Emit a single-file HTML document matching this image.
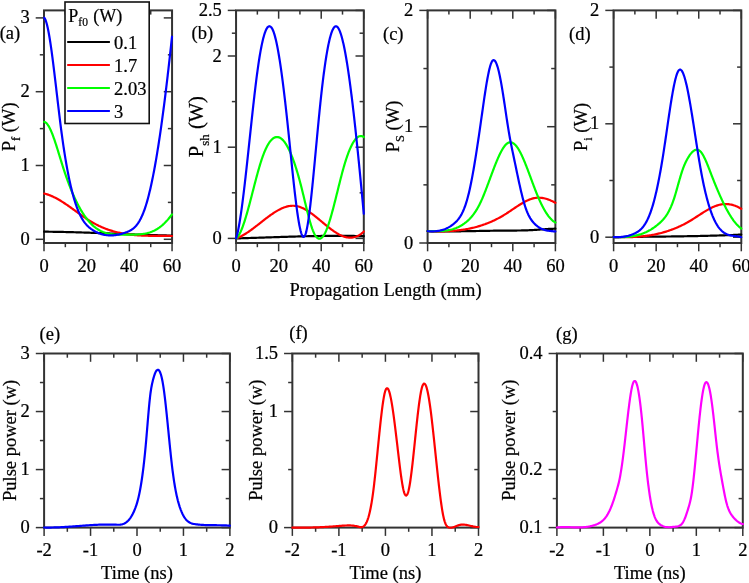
<!DOCTYPE html>
<html><head><meta charset="utf-8"><style>
html,body{margin:0;padding:0;background:#fff;}
svg{display:block;will-change:transform;}
text{font-family:"Liberation Serif",serif;fill:#000;stroke:#000;stroke-width:0.22px;}
</style></head><body>
<svg width="749" height="583" viewBox="0 0 749 583">
<rect width="749" height="583" fill="#fff"/>
<line x1="44.00" y1="243.00" x2="44.00" y2="251.30" stroke="#333" stroke-width="1.5"/>
<line x1="44.00" y1="10.40" x2="44.00" y2="18.70" stroke="#333" stroke-width="1.5"/>
<line x1="86.69" y1="243.00" x2="86.69" y2="251.30" stroke="#333" stroke-width="1.5"/>
<line x1="86.69" y1="10.40" x2="86.69" y2="18.70" stroke="#333" stroke-width="1.5"/>
<line x1="129.37" y1="243.00" x2="129.37" y2="251.30" stroke="#333" stroke-width="1.5"/>
<line x1="129.37" y1="10.40" x2="129.37" y2="18.70" stroke="#333" stroke-width="1.5"/>
<line x1="172.06" y1="243.00" x2="172.06" y2="251.30" stroke="#333" stroke-width="1.5"/>
<line x1="172.06" y1="10.40" x2="172.06" y2="18.70" stroke="#333" stroke-width="1.5"/>
<line x1="65.34" y1="243.00" x2="65.34" y2="247.20" stroke="#333" stroke-width="1.5"/>
<line x1="65.34" y1="10.40" x2="65.34" y2="14.60" stroke="#333" stroke-width="1.5"/>
<line x1="108.03" y1="243.00" x2="108.03" y2="247.20" stroke="#333" stroke-width="1.5"/>
<line x1="108.03" y1="10.40" x2="108.03" y2="14.60" stroke="#333" stroke-width="1.5"/>
<line x1="150.72" y1="243.00" x2="150.72" y2="247.20" stroke="#333" stroke-width="1.5"/>
<line x1="150.72" y1="10.40" x2="150.72" y2="14.60" stroke="#333" stroke-width="1.5"/>
<line x1="35.70" y1="239.30" x2="44.00" y2="239.30" stroke="#333" stroke-width="1.5"/>
<line x1="163.76" y1="239.30" x2="172.06" y2="239.30" stroke="#333" stroke-width="1.5"/>
<line x1="35.70" y1="165.50" x2="44.00" y2="165.50" stroke="#333" stroke-width="1.5"/>
<line x1="163.76" y1="165.50" x2="172.06" y2="165.50" stroke="#333" stroke-width="1.5"/>
<line x1="35.70" y1="91.70" x2="44.00" y2="91.70" stroke="#333" stroke-width="1.5"/>
<line x1="163.76" y1="91.70" x2="172.06" y2="91.70" stroke="#333" stroke-width="1.5"/>
<line x1="35.70" y1="17.90" x2="44.00" y2="17.90" stroke="#333" stroke-width="1.5"/>
<line x1="163.76" y1="17.90" x2="172.06" y2="17.90" stroke="#333" stroke-width="1.5"/>
<line x1="39.80" y1="202.40" x2="44.00" y2="202.40" stroke="#333" stroke-width="1.5"/>
<line x1="167.86" y1="202.40" x2="172.06" y2="202.40" stroke="#333" stroke-width="1.5"/>
<line x1="39.80" y1="128.60" x2="44.00" y2="128.60" stroke="#333" stroke-width="1.5"/>
<line x1="167.86" y1="128.60" x2="172.06" y2="128.60" stroke="#333" stroke-width="1.5"/>
<line x1="39.80" y1="54.80" x2="44.00" y2="54.80" stroke="#333" stroke-width="1.5"/>
<line x1="167.86" y1="54.80" x2="172.06" y2="54.80" stroke="#333" stroke-width="1.5"/>
<rect x="44.00" y="10.40" width="128.06" height="232.60" fill="none" stroke="#333" stroke-width="2.0"/>
<text x="44.00" y="271.60" font-size="18.5" text-anchor="middle" >0</text>
<text x="86.69" y="271.60" font-size="18.5" text-anchor="middle" >20</text>
<text x="129.37" y="271.60" font-size="18.5" text-anchor="middle" >40</text>
<text x="172.06" y="271.60" font-size="18.5" text-anchor="middle" >60</text>
<text x="29.70" y="244.80" font-size="18.5" text-anchor="end" >0</text>
<text x="29.70" y="171.00" font-size="18.5" text-anchor="end" >1</text>
<text x="29.70" y="97.20" font-size="18.5" text-anchor="end" >2</text>
<text x="29.70" y="23.40" font-size="18.5" text-anchor="end" >3</text>
<line x1="236.06" y1="243.00" x2="236.06" y2="251.30" stroke="#333" stroke-width="1.5"/>
<line x1="236.06" y1="10.40" x2="236.06" y2="18.70" stroke="#333" stroke-width="1.5"/>
<line x1="278.64" y1="243.00" x2="278.64" y2="251.30" stroke="#333" stroke-width="1.5"/>
<line x1="278.64" y1="10.40" x2="278.64" y2="18.70" stroke="#333" stroke-width="1.5"/>
<line x1="321.22" y1="243.00" x2="321.22" y2="251.30" stroke="#333" stroke-width="1.5"/>
<line x1="321.22" y1="10.40" x2="321.22" y2="18.70" stroke="#333" stroke-width="1.5"/>
<line x1="363.80" y1="243.00" x2="363.80" y2="251.30" stroke="#333" stroke-width="1.5"/>
<line x1="363.80" y1="10.40" x2="363.80" y2="18.70" stroke="#333" stroke-width="1.5"/>
<line x1="257.35" y1="243.00" x2="257.35" y2="247.20" stroke="#333" stroke-width="1.5"/>
<line x1="257.35" y1="10.40" x2="257.35" y2="14.60" stroke="#333" stroke-width="1.5"/>
<line x1="299.93" y1="243.00" x2="299.93" y2="247.20" stroke="#333" stroke-width="1.5"/>
<line x1="299.93" y1="10.40" x2="299.93" y2="14.60" stroke="#333" stroke-width="1.5"/>
<line x1="342.51" y1="243.00" x2="342.51" y2="247.20" stroke="#333" stroke-width="1.5"/>
<line x1="342.51" y1="10.40" x2="342.51" y2="14.60" stroke="#333" stroke-width="1.5"/>
<line x1="227.76" y1="238.40" x2="236.06" y2="238.40" stroke="#333" stroke-width="1.5"/>
<line x1="355.50" y1="238.40" x2="363.80" y2="238.40" stroke="#333" stroke-width="1.5"/>
<line x1="227.76" y1="147.20" x2="236.06" y2="147.20" stroke="#333" stroke-width="1.5"/>
<line x1="355.50" y1="147.20" x2="363.80" y2="147.20" stroke="#333" stroke-width="1.5"/>
<line x1="227.76" y1="56.00" x2="236.06" y2="56.00" stroke="#333" stroke-width="1.5"/>
<line x1="355.50" y1="56.00" x2="363.80" y2="56.00" stroke="#333" stroke-width="1.5"/>
<line x1="227.76" y1="10.40" x2="236.06" y2="10.40" stroke="#333" stroke-width="1.5"/>
<line x1="355.50" y1="10.40" x2="363.80" y2="10.40" stroke="#333" stroke-width="1.5"/>
<line x1="231.86" y1="192.80" x2="236.06" y2="192.80" stroke="#333" stroke-width="1.5"/>
<line x1="359.60" y1="192.80" x2="363.80" y2="192.80" stroke="#333" stroke-width="1.5"/>
<line x1="231.86" y1="101.60" x2="236.06" y2="101.60" stroke="#333" stroke-width="1.5"/>
<line x1="359.60" y1="101.60" x2="363.80" y2="101.60" stroke="#333" stroke-width="1.5"/>
<line x1="231.86" y1="33.20" x2="236.06" y2="33.20" stroke="#333" stroke-width="1.5"/>
<line x1="359.60" y1="33.20" x2="363.80" y2="33.20" stroke="#333" stroke-width="1.5"/>
<rect x="236.06" y="10.40" width="127.74" height="232.60" fill="none" stroke="#333" stroke-width="2.0"/>
<text x="236.06" y="271.60" font-size="18.5" text-anchor="middle" >0</text>
<text x="278.64" y="271.60" font-size="18.5" text-anchor="middle" >20</text>
<text x="321.22" y="271.60" font-size="18.5" text-anchor="middle" >40</text>
<text x="363.80" y="271.60" font-size="18.5" text-anchor="middle" >60</text>
<text x="221.76" y="243.90" font-size="18.5" text-anchor="end" >0</text>
<text x="221.76" y="152.70" font-size="18.5" text-anchor="end" >1</text>
<text x="221.76" y="61.50" font-size="18.5" text-anchor="end" >2</text>
<text x="221.76" y="15.90" font-size="18.5" text-anchor="end" >2.5</text>
<line x1="427.60" y1="243.00" x2="427.60" y2="251.30" stroke="#333" stroke-width="1.5"/>
<line x1="427.60" y1="10.40" x2="427.60" y2="18.70" stroke="#333" stroke-width="1.5"/>
<line x1="470.20" y1="243.00" x2="470.20" y2="251.30" stroke="#333" stroke-width="1.5"/>
<line x1="470.20" y1="10.40" x2="470.20" y2="18.70" stroke="#333" stroke-width="1.5"/>
<line x1="512.80" y1="243.00" x2="512.80" y2="251.30" stroke="#333" stroke-width="1.5"/>
<line x1="512.80" y1="10.40" x2="512.80" y2="18.70" stroke="#333" stroke-width="1.5"/>
<line x1="555.40" y1="243.00" x2="555.40" y2="251.30" stroke="#333" stroke-width="1.5"/>
<line x1="555.40" y1="10.40" x2="555.40" y2="18.70" stroke="#333" stroke-width="1.5"/>
<line x1="448.90" y1="243.00" x2="448.90" y2="247.20" stroke="#333" stroke-width="1.5"/>
<line x1="448.90" y1="10.40" x2="448.90" y2="14.60" stroke="#333" stroke-width="1.5"/>
<line x1="491.50" y1="243.00" x2="491.50" y2="247.20" stroke="#333" stroke-width="1.5"/>
<line x1="491.50" y1="10.40" x2="491.50" y2="14.60" stroke="#333" stroke-width="1.5"/>
<line x1="534.10" y1="243.00" x2="534.10" y2="247.20" stroke="#333" stroke-width="1.5"/>
<line x1="534.10" y1="10.40" x2="534.10" y2="14.60" stroke="#333" stroke-width="1.5"/>
<line x1="419.30" y1="243.00" x2="427.60" y2="243.00" stroke="#333" stroke-width="1.5"/>
<line x1="547.10" y1="243.00" x2="555.40" y2="243.00" stroke="#333" stroke-width="1.5"/>
<line x1="419.30" y1="126.70" x2="427.60" y2="126.70" stroke="#333" stroke-width="1.5"/>
<line x1="547.10" y1="126.70" x2="555.40" y2="126.70" stroke="#333" stroke-width="1.5"/>
<line x1="419.30" y1="10.40" x2="427.60" y2="10.40" stroke="#333" stroke-width="1.5"/>
<line x1="547.10" y1="10.40" x2="555.40" y2="10.40" stroke="#333" stroke-width="1.5"/>
<line x1="423.40" y1="184.85" x2="427.60" y2="184.85" stroke="#333" stroke-width="1.5"/>
<line x1="551.20" y1="184.85" x2="555.40" y2="184.85" stroke="#333" stroke-width="1.5"/>
<line x1="423.40" y1="68.55" x2="427.60" y2="68.55" stroke="#333" stroke-width="1.5"/>
<line x1="551.20" y1="68.55" x2="555.40" y2="68.55" stroke="#333" stroke-width="1.5"/>
<rect x="427.60" y="10.40" width="127.80" height="232.60" fill="none" stroke="#333" stroke-width="2.0"/>
<text x="427.60" y="271.60" font-size="18.5" text-anchor="middle" >0</text>
<text x="470.20" y="271.60" font-size="18.5" text-anchor="middle" >20</text>
<text x="512.80" y="271.60" font-size="18.5" text-anchor="middle" >40</text>
<text x="555.40" y="271.60" font-size="18.5" text-anchor="middle" >60</text>
<text x="413.30" y="248.50" font-size="18.5" text-anchor="end" >0</text>
<text x="413.30" y="132.20" font-size="18.5" text-anchor="end" >1</text>
<text x="413.30" y="15.90" font-size="18.5" text-anchor="end" >2</text>
<line x1="613.60" y1="243.00" x2="613.60" y2="251.30" stroke="#333" stroke-width="1.5"/>
<line x1="613.60" y1="10.40" x2="613.60" y2="18.70" stroke="#333" stroke-width="1.5"/>
<line x1="656.17" y1="243.00" x2="656.17" y2="251.30" stroke="#333" stroke-width="1.5"/>
<line x1="656.17" y1="10.40" x2="656.17" y2="18.70" stroke="#333" stroke-width="1.5"/>
<line x1="698.73" y1="243.00" x2="698.73" y2="251.30" stroke="#333" stroke-width="1.5"/>
<line x1="698.73" y1="10.40" x2="698.73" y2="18.70" stroke="#333" stroke-width="1.5"/>
<line x1="741.30" y1="243.00" x2="741.30" y2="251.30" stroke="#333" stroke-width="1.5"/>
<line x1="741.30" y1="10.40" x2="741.30" y2="18.70" stroke="#333" stroke-width="1.5"/>
<line x1="634.88" y1="243.00" x2="634.88" y2="247.20" stroke="#333" stroke-width="1.5"/>
<line x1="634.88" y1="10.40" x2="634.88" y2="14.60" stroke="#333" stroke-width="1.5"/>
<line x1="677.45" y1="243.00" x2="677.45" y2="247.20" stroke="#333" stroke-width="1.5"/>
<line x1="677.45" y1="10.40" x2="677.45" y2="14.60" stroke="#333" stroke-width="1.5"/>
<line x1="720.02" y1="243.00" x2="720.02" y2="247.20" stroke="#333" stroke-width="1.5"/>
<line x1="720.02" y1="10.40" x2="720.02" y2="14.60" stroke="#333" stroke-width="1.5"/>
<line x1="605.30" y1="237.20" x2="613.60" y2="237.20" stroke="#333" stroke-width="1.5"/>
<line x1="733.00" y1="237.20" x2="741.30" y2="237.20" stroke="#333" stroke-width="1.5"/>
<line x1="605.30" y1="123.80" x2="613.60" y2="123.80" stroke="#333" stroke-width="1.5"/>
<line x1="733.00" y1="123.80" x2="741.30" y2="123.80" stroke="#333" stroke-width="1.5"/>
<line x1="605.30" y1="10.40" x2="613.60" y2="10.40" stroke="#333" stroke-width="1.5"/>
<line x1="733.00" y1="10.40" x2="741.30" y2="10.40" stroke="#333" stroke-width="1.5"/>
<line x1="609.40" y1="180.50" x2="613.60" y2="180.50" stroke="#333" stroke-width="1.5"/>
<line x1="737.10" y1="180.50" x2="741.30" y2="180.50" stroke="#333" stroke-width="1.5"/>
<line x1="609.40" y1="67.10" x2="613.60" y2="67.10" stroke="#333" stroke-width="1.5"/>
<line x1="737.10" y1="67.10" x2="741.30" y2="67.10" stroke="#333" stroke-width="1.5"/>
<rect x="613.60" y="10.40" width="127.70" height="232.60" fill="none" stroke="#333" stroke-width="2.0"/>
<text x="613.60" y="271.60" font-size="18.5" text-anchor="middle" >0</text>
<text x="656.17" y="271.60" font-size="18.5" text-anchor="middle" >20</text>
<text x="698.73" y="271.60" font-size="18.5" text-anchor="middle" >40</text>
<text x="741.30" y="271.60" font-size="18.5" text-anchor="middle" >60</text>
<text x="599.30" y="242.70" font-size="18.5" text-anchor="end" >0</text>
<text x="599.30" y="129.30" font-size="18.5" text-anchor="end" >1</text>
<text x="599.30" y="15.90" font-size="18.5" text-anchor="end" >2</text>
<path d="M44.20,231.69 L45.20,231.69 L46.20,231.70 L47.20,231.71 L48.20,231.72 L49.20,231.73 L50.20,231.74 L51.20,231.75 L52.20,231.77 L53.20,231.78 L54.20,231.80 L55.20,231.81 L56.20,231.83 L57.20,231.85 L58.20,231.86 L59.20,231.88 L60.20,231.90 L61.20,231.92 L62.20,231.94 L63.20,231.96 L64.20,231.99 L65.20,232.01 L66.20,232.03 L67.20,232.06 L68.20,232.08 L69.20,232.11 L70.20,232.13 L71.20,232.16 L72.20,232.18 L73.19,232.21 L74.19,232.24 L75.19,232.27 L76.19,232.30 L77.19,232.33 L78.19,232.36 L79.19,232.39 L80.19,232.42 L81.19,232.45 L82.19,232.48 L83.19,232.52 L84.19,232.55 L85.19,232.58 L86.19,232.62 L87.19,232.65 L88.19,232.68 L89.19,232.72 L90.19,232.75 L91.19,232.79 L92.19,232.82 L93.18,232.86 L94.18,232.90 L95.18,232.93 L96.18,232.97 L97.18,233.01 L98.18,233.05 L99.18,233.08 L100.18,233.12 L101.18,233.16 L102.18,233.20 L103.18,233.24 L104.18,233.27 L105.18,233.31 L106.18,233.35 L107.17,233.39 L108.17,233.43 L109.17,233.47 L110.17,233.51 L111.17,233.55 L112.17,233.59 L113.17,233.63 L114.17,233.67 L115.17,233.71 L116.17,233.74 L117.17,233.78 L118.17,233.82 L119.17,233.86 L120.16,233.90 L121.16,233.94 L122.16,233.98 L123.16,234.02 L124.16,234.06 L125.16,234.10 L126.16,234.14 L127.16,234.18 L128.16,234.22 L129.16,234.25 L130.16,234.29 L131.16,234.33 L132.16,234.37 L133.15,234.41 L134.15,234.44 L135.15,234.48 L136.15,234.52 L137.15,234.56 L138.15,234.59 L139.15,234.63 L140.15,234.66 L141.15,234.70 L142.15,234.74 L143.15,234.77 L144.15,234.81 L145.15,234.84 L146.15,234.87 L147.15,234.91 L148.14,234.94 L149.14,234.97 L150.14,235.01 L151.14,235.04 L152.14,235.07 L153.14,235.10 L154.14,235.13 L155.14,235.16 L156.14,235.19 L157.14,235.22 L158.14,235.25 L159.14,235.28 L160.14,235.30 L161.14,235.33 L162.14,235.36 L163.14,235.38 L164.14,235.41 L165.14,235.43 L166.14,235.46 L167.14,235.48 L168.14,235.50 L169.14,235.53 L170.14,235.55 L171.14,235.57 L172.00,235.59" fill="none" stroke="#000000" stroke-width="2.2" stroke-linejoin="round" stroke-linecap="round"/>
<path d="M44.20,193.57 L45.18,193.80 L46.14,194.06 L47.11,194.35 L48.06,194.66 L49.01,195.00 L49.95,195.35 L50.88,195.73 L51.80,196.12 L52.72,196.53 L53.63,196.95 L54.53,197.39 L55.42,197.85 L56.31,198.32 L57.19,198.79 L58.07,199.28 L58.94,199.78 L59.80,200.29 L60.66,200.81 L61.52,201.34 L62.37,201.87 L63.21,202.41 L64.05,202.96 L64.89,203.51 L65.72,204.07 L66.55,204.63 L67.38,205.19 L68.20,205.76 L69.02,206.34 L69.84,206.91 L70.66,207.49 L71.47,208.07 L72.29,208.65 L73.10,209.24 L73.91,209.82 L74.72,210.41 L75.54,210.99 L76.35,211.58 L77.16,212.16 L77.97,212.75 L78.78,213.33 L79.59,213.91 L80.41,214.49 L81.22,215.07 L82.04,215.64 L82.86,216.22 L83.68,216.79 L84.50,217.35 L85.32,217.91 L86.15,218.47 L86.98,219.02 L87.82,219.57 L88.66,220.11 L89.50,220.64 L90.35,221.16 L91.20,221.68 L92.06,222.19 L92.92,222.69 L93.79,223.18 L94.66,223.66 L95.54,224.14 L96.42,224.60 L97.31,225.05 L98.21,225.49 L99.10,225.93 L100.01,226.35 L100.92,226.76 L101.83,227.16 L102.75,227.56 L103.67,227.94 L104.59,228.31 L105.52,228.67 L106.46,229.02 L107.39,229.36 L108.34,229.70 L109.28,230.02 L110.23,230.33 L111.18,230.63 L112.14,230.92 L113.10,231.20 L114.06,231.47 L115.02,231.73 L115.99,231.98 L116.96,232.22 L117.93,232.45 L118.90,232.67 L119.88,232.88 L120.86,233.08 L121.84,233.28 L122.82,233.46 L123.80,233.64 L124.79,233.81 L125.78,233.97 L126.76,234.12 L127.75,234.26 L128.74,234.40 L129.73,234.52 L130.73,234.64 L131.72,234.76 L132.71,234.86 L133.71,234.96 L134.70,235.05 L135.70,235.14 L136.70,235.22 L137.69,235.29 L138.69,235.36 L139.69,235.42 L140.69,235.48 L141.69,235.53 L142.68,235.58 L143.68,235.63 L144.68,235.66 L145.68,235.70 L146.68,235.73 L147.68,235.76 L148.68,235.78 L149.68,235.80 L150.68,235.82 L151.68,235.84 L152.68,235.85 L153.68,235.86 L154.68,235.87 L155.68,235.88 L156.68,235.89 L157.68,235.89 L158.68,235.90 L159.68,235.90 L160.68,235.91 L161.68,235.91 L162.68,235.91 L163.68,235.92 L164.68,235.92 L165.68,235.93 L166.68,235.93 L167.68,235.94 L168.68,235.95 L169.68,235.96 L170.68,235.98 L171.68,235.99 L172.00,236.00" fill="none" stroke="#ff0000" stroke-width="2.2" stroke-linejoin="round" stroke-linecap="round"/>
<path d="M44.20,121.88 L45.19,122.23 L46.07,122.84 L46.83,123.59 L47.50,124.41 L48.10,125.27 L48.65,126.15 L49.16,127.04 L49.64,127.95 L50.10,128.87 L50.53,129.79 L50.95,130.72 L51.35,131.65 L51.74,132.59 L52.12,133.53 L52.49,134.47 L52.85,135.42 L53.20,136.36 L53.55,137.31 L53.89,138.26 L54.22,139.21 L54.55,140.16 L54.87,141.12 L55.19,142.07 L55.51,143.03 L55.82,143.98 L56.13,144.94 L56.44,145.89 L56.74,146.85 L57.04,147.81 L57.35,148.76 L57.64,149.72 L57.94,150.68 L58.24,151.63 L58.53,152.59 L58.83,153.55 L59.12,154.50 L59.41,155.46 L59.70,156.42 L60.00,157.37 L60.29,158.33 L60.58,159.29 L60.88,160.24 L61.17,161.19 L61.46,162.15 L61.76,163.10 L62.06,164.05 L62.35,165.01 L62.65,165.96 L62.96,166.91 L63.26,167.86 L63.57,168.80 L63.87,169.75 L64.18,170.70 L64.50,171.64 L64.81,172.59 L65.13,173.53 L65.45,174.47 L65.78,175.42 L66.10,176.36 L66.43,177.30 L66.76,178.23 L67.10,179.17 L67.44,180.11 L67.78,181.04 L68.12,181.98 L68.47,182.91 L68.82,183.84 L69.17,184.77 L69.53,185.70 L69.89,186.63 L70.26,187.55 L70.62,188.48 L71.00,189.40 L71.37,190.32 L71.75,191.24 L72.13,192.16 L72.52,193.08 L72.91,193.99 L73.31,194.90 L73.71,195.81 L74.12,196.72 L74.53,197.62 L74.95,198.53 L75.37,199.43 L75.79,200.32 L76.22,201.22 L76.66,202.11 L77.10,203.00 L77.55,203.89 L78.01,204.77 L78.47,205.65 L78.94,206.52 L79.41,207.39 L79.90,208.26 L80.38,209.13 L80.88,209.98 L81.39,210.84 L81.90,211.69 L82.42,212.53 L82.95,213.37 L83.49,214.20 L84.04,215.02 L84.60,215.84 L85.17,216.65 L85.75,217.46 L86.34,218.25 L86.94,219.04 L87.56,219.81 L88.19,220.58 L88.83,221.33 L89.48,222.07 L90.15,222.80 L90.83,223.52 L91.53,224.22 L92.24,224.91 L92.97,225.57 L93.72,226.23 L94.48,226.86 L95.25,227.47 L96.04,228.07 L96.85,228.64 L97.68,229.19 L98.52,229.71 L99.38,230.21 L100.25,230.68 L101.13,231.13 L102.03,231.55 L102.95,231.94 L103.87,232.30 L104.81,232.63 L105.76,232.94 L106.71,233.21 L107.68,233.46 L108.65,233.68 L109.63,233.88 L110.61,234.05 L111.60,234.19 L112.59,234.32 L113.58,234.42 L114.58,234.50 L115.58,234.57 L116.57,234.62 L117.57,234.66 L118.57,234.68 L119.57,234.69 L120.57,234.70 L121.57,234.70 L122.57,234.69 L123.57,234.68 L124.57,234.67 L125.57,234.66 L126.57,234.66 L127.57,234.65 L128.57,234.65 L129.57,234.65 L130.57,234.65 L131.57,234.65 L132.57,234.64 L133.57,234.63 L134.57,234.61 L135.57,234.59 L136.57,234.55 L137.57,234.50 L138.57,234.44 L139.57,234.36 L140.56,234.27 L141.56,234.16 L142.55,234.03 L143.54,233.88 L144.53,233.72 L145.51,233.52 L146.49,233.31 L147.46,233.07 L148.43,232.80 L149.39,232.51 L150.35,232.19 L151.29,231.85 L152.23,231.48 L153.15,231.08 L154.06,230.66 L154.96,230.21 L155.85,229.73 L156.73,229.23 L157.59,228.71 L158.43,228.16 L159.27,227.59 L160.08,227.00 L160.89,226.38 L161.67,225.75 L162.45,225.10 L163.20,224.43 L163.95,223.75 L164.68,223.05 L165.39,222.34 L166.09,221.61 L166.78,220.87 L167.45,220.11 L168.11,219.35 L168.76,218.57 L169.39,217.79 L170.01,216.99 L170.62,216.19 L171.22,215.38 L171.81,214.56 L172.00,214.29" fill="none" stroke="#00ff00" stroke-width="2.2" stroke-linejoin="round" stroke-linecap="round"/>
<path d="M44.20,17.77 L44.93,18.77 L45.41,19.77 L45.81,20.77 L46.15,21.78 L46.45,22.77 L46.73,23.77 L47.00,24.77 L47.24,25.77 L47.47,26.77 L47.70,27.76 L47.91,28.76 L48.12,29.76 L48.31,30.75 L48.51,31.75 L48.69,32.74 L48.88,33.74 L49.05,34.74 L49.23,35.73 L49.40,36.73 L49.56,37.72 L49.73,38.72 L49.89,39.72 L50.04,40.71 L50.20,41.71 L50.35,42.70 L50.50,43.70 L50.65,44.69 L50.80,45.69 L50.94,46.68 L51.09,47.68 L51.23,48.68 L51.37,49.67 L51.51,50.67 L51.65,51.66 L51.78,52.66 L51.92,53.65 L52.05,54.65 L52.18,55.64 L52.31,56.64 L52.45,57.63 L52.58,58.63 L52.70,59.62 L52.83,60.62 L52.96,61.61 L53.09,62.61 L53.21,63.60 L53.34,64.60 L53.46,65.59 L53.58,66.59 L53.71,67.58 L53.83,68.58 L53.95,69.57 L54.07,70.56 L54.19,71.56 L54.32,72.55 L54.44,73.55 L54.56,74.54 L54.68,75.54 L54.80,76.54 L54.92,77.55 L55.04,78.56 L55.16,79.57 L55.28,80.58 L55.40,81.59 L55.52,82.61 L55.64,83.63 L55.76,84.65 L55.88,85.67 L56.00,86.69 L56.12,87.71 L56.24,88.74 L56.36,89.76 L56.48,90.79 L56.60,91.82 L56.72,92.84 L56.84,93.87 L56.96,94.90 L57.08,95.92 L57.20,96.95 L57.32,97.98 L57.44,99.00 L57.56,100.03 L57.68,101.05 L57.80,102.07 L57.92,103.09 L58.04,104.11 L58.16,105.13 L58.28,106.14 L58.40,107.16 L58.52,108.17 L58.64,109.18 L58.76,110.19 L58.88,111.19 L59.00,112.19 L59.12,113.19 L59.24,114.18 L59.36,115.18 L59.48,116.17 L59.60,117.16 L59.72,118.15 L59.84,119.14 L59.96,120.13 L60.08,121.12 L60.21,122.11 L60.33,123.10 L60.46,124.09 L60.58,125.08 L60.71,126.07 L60.83,127.06 L60.96,128.05 L61.09,129.03 L61.22,130.02 L61.35,131.01 L61.48,132.00 L61.61,132.99 L61.74,133.97 L61.88,134.96 L62.01,135.95 L62.15,136.94 L62.28,137.92 L62.42,138.91 L62.56,139.90 L62.70,140.88 L62.84,141.87 L62.98,142.85 L63.12,143.84 L63.27,144.83 L63.41,145.81 L63.56,146.80 L63.71,147.78 L63.85,148.77 L64.00,149.75 L64.15,150.74 L64.31,151.72 L64.46,152.70 L64.61,153.69 L64.77,154.67 L64.93,155.65 L65.09,156.64 L65.25,157.62 L65.41,158.60 L65.57,159.58 L65.74,160.56 L65.90,161.54 L66.07,162.53 L66.24,163.51 L66.41,164.49 L66.59,165.47 L66.76,166.45 L66.94,167.42 L67.12,168.40 L67.30,169.38 L67.48,170.36 L67.67,171.34 L67.85,172.31 L68.04,173.29 L68.23,174.26 L68.43,175.24 L68.62,176.21 L68.82,177.19 L69.02,178.16 L69.22,179.13 L69.43,180.11 L69.64,181.08 L69.85,182.05 L70.06,183.02 L70.28,183.99 L70.50,184.96 L70.72,185.92 L70.95,186.89 L71.17,187.86 L71.41,188.82 L71.64,189.78 L71.88,190.75 L72.13,191.71 L72.38,192.67 L72.63,193.63 L72.89,194.58 L73.15,195.54 L73.41,196.49 L73.68,197.45 L73.96,198.40 L74.24,199.35 L74.53,200.30 L74.82,201.24 L75.12,202.19 L75.42,203.13 L75.73,204.07 L76.05,205.00 L76.38,205.93 L76.71,206.86 L77.05,207.79 L77.40,208.71 L77.76,209.63 L78.13,210.55 L78.51,211.46 L78.90,212.37 L79.30,213.27 L79.71,214.16 L80.14,215.05 L80.58,215.93 L81.03,216.80 L81.50,217.67 L81.98,218.52 L82.48,219.37 L83.00,220.20 L83.54,221.02 L84.10,221.83 L84.68,222.62 L85.28,223.40 L85.91,224.15 L86.55,224.89 L87.23,225.61 L87.92,226.30 L88.65,226.97 L89.39,227.61 L90.16,228.23 L90.95,228.82 L91.76,229.39 L92.58,229.94 L93.42,230.47 L94.28,230.98 L95.14,231.46 L96.02,231.92 L96.92,232.35 L97.82,232.76 L98.74,233.15 L99.67,233.50 L100.61,233.83 L101.55,234.12 L102.51,234.39 L103.48,234.63 L104.46,234.84 L105.44,235.01 L106.42,235.15 L107.42,235.27 L108.41,235.35 L109.41,235.40 L110.41,235.42 L111.41,235.41 L112.41,235.38 L113.41,235.31 L114.40,235.22 L115.40,235.10 L116.39,234.95 L117.38,234.78 L118.36,234.59 L119.34,234.38 L120.31,234.14 L121.28,233.89 L122.25,233.61 L123.21,233.32 L124.16,233.01 L125.11,232.68 L126.05,232.34 L126.99,231.99 L127.92,231.61 L128.84,231.20 L129.75,230.76 L130.64,230.28 L131.51,229.76 L132.35,229.19 L133.17,228.57 L133.95,227.92 L134.70,227.22 L135.41,226.49 L136.10,225.73 L136.75,224.94 L137.37,224.13 L137.97,223.29 L138.53,222.44 L139.08,221.58 L139.60,220.70 L140.09,219.81 L140.57,218.91 L141.03,218.00 L141.47,217.08 L141.90,216.15 L142.31,215.22 L142.71,214.29 L143.10,213.35 L143.47,212.41 L143.83,211.46 L144.19,210.51 L144.53,209.55 L144.86,208.60 L145.19,207.64 L145.50,206.68 L145.81,205.71 L146.11,204.75 L146.41,203.78 L146.70,202.81 L146.98,201.84 L147.26,200.87 L147.53,199.90 L147.79,198.92 L148.06,197.95 L148.31,196.98 L148.57,196.00 L148.82,195.02 L149.06,194.05 L149.30,193.07 L149.54,192.09 L149.78,191.11 L150.01,190.13 L150.24,189.15 L150.46,188.17 L150.68,187.19 L150.90,186.21 L151.12,185.22 L151.34,184.24 L151.55,183.26 L151.76,182.27 L151.97,181.29 L152.17,180.31 L152.37,179.32 L152.58,178.34 L152.77,177.35 L152.97,176.37 L153.17,175.38 L153.36,174.40 L153.55,173.41 L153.74,172.42 L153.93,171.44 L154.12,170.45 L154.30,169.46 L154.48,168.48 L154.67,167.49 L154.85,166.50 L155.02,165.51 L155.20,164.52 L155.38,163.54 L155.55,162.55 L155.73,161.56 L155.90,160.57 L156.07,159.58 L156.24,158.59 L156.41,157.60 L156.57,156.61 L156.74,155.62 L156.90,154.63 L157.07,153.64 L157.23,152.65 L157.39,151.66 L157.55,150.67 L157.71,149.68 L157.87,148.69 L158.03,147.70 L158.19,146.71 L158.34,145.72 L158.50,144.73 L158.65,143.74 L158.80,142.75 L158.95,141.76 L159.11,140.76 L159.26,139.77 L159.41,138.78 L159.55,137.79 L159.70,136.80 L159.85,135.81 L160.00,134.81 L160.14,133.82 L160.29,132.83 L160.43,131.84 L160.57,130.85 L160.72,129.85 L160.86,128.86 L161.00,127.87 L161.14,126.88 L161.28,125.88 L161.42,124.89 L161.56,123.90 L161.69,122.91 L161.83,121.91 L161.97,120.92 L162.10,119.93 L162.24,118.93 L162.37,117.94 L162.51,116.95 L162.64,115.95 L162.78,114.96 L162.91,113.97 L163.04,112.97 L163.17,111.98 L163.30,110.99 L163.43,109.99 L163.56,109.00 L163.69,108.01 L163.82,107.01 L163.95,106.02 L164.08,105.03 L164.20,104.03 L164.33,103.04 L164.46,102.04 L164.58,101.05 L164.71,100.06 L164.83,99.06 L164.96,98.07 L165.08,97.07 L165.21,96.08 L165.33,95.09 L165.45,94.09 L165.57,93.10 L165.70,92.10 L165.82,91.11 L165.94,90.12 L166.06,89.12 L166.18,88.13 L166.30,87.13 L166.42,86.14 L166.54,85.14 L166.66,84.14 L166.78,83.13 L166.90,82.12 L167.02,81.11 L167.14,80.10 L167.26,79.08 L167.38,78.06 L167.50,77.04 L167.62,76.01 L167.74,74.99 L167.86,73.96 L167.98,72.92 L168.10,71.88 L168.22,70.84 L168.34,69.80 L168.46,68.76 L168.58,67.71 L168.70,66.66 L168.82,65.60 L168.94,64.55 L169.06,63.49 L169.18,62.42 L169.30,61.36 L169.42,60.29 L169.54,59.22 L169.66,58.15 L169.78,57.07 L169.90,55.99 L170.02,54.91 L170.14,53.83 L170.26,52.74 L170.38,51.65 L170.50,50.56 L170.62,49.47 L170.74,48.37 L170.86,47.27 L170.98,46.17 L171.10,45.07 L171.22,43.96 L171.34,42.85 L171.46,41.74 L171.58,40.63 L171.70,39.51 L171.82,38.39 L171.94,37.27 L172.00,36.72" fill="none" stroke="#0000ff" stroke-width="2.2" stroke-linejoin="round" stroke-linecap="round"/>
<path d="M236.10,238.40 L237.10,238.37 L238.10,238.35 L239.10,238.32 L240.10,238.29 L241.10,238.26 L242.10,238.23 L243.10,238.20 L244.10,238.17 L245.10,238.14 L246.10,238.11 L247.10,238.08 L248.09,238.05 L249.09,238.02 L250.09,237.99 L251.09,237.96 L252.09,237.93 L253.09,237.89 L254.09,237.86 L255.09,237.83 L256.09,237.80 L257.09,237.76 L258.09,237.73 L259.09,237.70 L260.09,237.66 L261.09,237.63 L262.09,237.60 L263.09,237.56 L264.09,237.53 L265.09,237.50 L266.09,237.46 L267.08,237.43 L268.08,237.40 L269.08,237.36 L270.08,237.33 L271.08,237.30 L272.08,237.26 L273.08,237.23 L274.08,237.20 L275.08,237.16 L276.08,237.13 L277.08,237.10 L278.08,237.06 L279.08,237.03 L280.08,237.00 L281.08,236.97 L282.08,236.93 L283.08,236.90 L284.08,236.87 L285.08,236.84 L286.07,236.81 L287.07,236.78 L288.07,236.75 L289.07,236.71 L290.07,236.68 L291.07,236.65 L292.07,236.62 L293.07,236.60 L294.07,236.57 L295.07,236.54 L296.07,236.51 L297.07,236.48 L298.07,236.45 L299.07,236.43 L300.07,236.40 L301.07,236.37 L302.07,236.35 L303.07,236.32 L304.07,236.30 L305.07,236.27 L306.07,236.25 L307.07,236.23 L308.07,236.20 L309.07,236.18 L310.07,236.16 L311.07,236.14 L312.07,236.12 L313.07,236.10 L314.06,236.08 L315.06,236.06 L316.06,236.04 L317.06,236.03 L318.06,236.01 L319.06,235.99 L320.06,235.98 L321.06,235.96 L322.06,235.95 L323.06,235.94 L324.06,235.92 L325.06,235.91 L326.06,235.90 L327.06,235.89 L328.06,235.88 L329.06,235.87 L330.06,235.87 L331.06,235.86 L332.06,235.86 L333.06,235.85 L334.06,235.85 L335.06,235.84 L336.06,235.84 L337.06,235.84 L338.06,235.84 L339.06,235.84 L340.06,235.84 L341.06,235.84 L342.06,235.85 L343.06,235.85 L344.06,235.86 L345.06,235.86 L346.06,235.87 L347.06,235.88 L348.06,235.89 L349.06,235.90 L350.06,235.91 L351.06,235.93 L352.06,235.94 L353.06,235.96 L354.06,235.97 L355.06,235.99 L356.06,236.01 L357.06,236.03 L358.06,236.05 L359.06,236.08 L360.06,236.10 L361.06,236.12 L362.06,236.15 L363.06,236.18 L363.80,236.20" fill="none" stroke="#000000" stroke-width="2.2" stroke-linejoin="round" stroke-linecap="round"/>
<path d="M236.10,238.43 L237.04,238.08 L237.98,237.71 L238.90,237.32 L239.82,236.90 L240.72,236.46 L241.62,236.00 L242.50,235.52 L243.38,235.03 L244.24,234.53 L245.10,234.01 L245.96,233.47 L246.80,232.93 L247.64,232.38 L248.47,231.82 L249.30,231.25 L250.12,230.67 L250.93,230.09 L251.74,229.50 L252.55,228.90 L253.35,228.30 L254.15,227.70 L254.95,227.09 L255.74,226.48 L256.54,225.87 L257.33,225.25 L258.11,224.64 L258.90,224.02 L259.69,223.40 L260.47,222.78 L261.26,222.16 L262.04,221.54 L262.83,220.93 L263.62,220.31 L264.40,219.70 L265.19,219.08 L265.99,218.48 L266.78,217.87 L267.58,217.27 L268.38,216.67 L269.18,216.08 L269.99,215.50 L270.80,214.92 L271.62,214.35 L272.44,213.78 L273.26,213.23 L274.10,212.68 L274.94,212.14 L275.78,211.62 L276.63,211.10 L277.50,210.60 L278.36,210.12 L279.24,209.65 L280.13,209.20 L281.02,208.76 L281.93,208.35 L282.84,207.96 L283.77,207.59 L284.70,207.25 L285.65,206.94 L286.60,206.66 L287.56,206.41 L288.54,206.20 L289.52,206.02 L290.51,205.89 L291.50,205.80 L292.50,205.76 L293.50,205.76 L294.50,205.82 L295.49,205.92 L296.48,206.08 L297.47,206.28 L298.44,206.53 L299.41,206.82 L300.36,207.15 L301.30,207.52 L302.22,207.91 L303.13,208.34 L304.04,208.79 L304.92,209.26 L305.80,209.75 L306.67,210.26 L307.52,210.79 L308.37,211.33 L309.21,211.89 L310.04,212.46 L310.86,213.04 L311.67,213.63 L312.48,214.22 L313.28,214.83 L314.07,215.44 L314.86,216.06 L315.65,216.68 L316.43,217.31 L317.21,217.94 L317.98,218.58 L318.75,219.21 L319.53,219.85 L320.29,220.49 L321.06,221.13 L321.83,221.78 L322.60,222.42 L323.36,223.06 L324.13,223.70 L324.90,224.34 L325.67,224.97 L326.44,225.60 L327.22,226.23 L328.00,226.85 L328.78,227.47 L329.57,228.09 L330.36,228.69 L331.15,229.29 L331.95,229.89 L332.76,230.47 L333.58,231.04 L334.40,231.60 L335.23,232.15 L336.07,232.69 L336.91,233.21 L337.77,233.71 L338.64,234.20 L339.52,234.66 L340.41,235.10 L341.31,235.52 L342.22,235.91 L343.15,236.27 L344.09,236.59 L345.04,236.88 L346.00,237.13 L346.97,237.33 L347.96,237.49 L348.95,237.59 L349.94,237.65 L350.94,237.64 L351.94,237.57 L352.94,237.44 L353.93,237.25 L354.90,237.00 L355.86,236.69 L356.81,236.33 L357.73,235.91 L358.62,235.44 L359.50,234.92 L360.35,234.37 L361.17,233.77 L361.97,233.14 L362.74,232.48 L363.49,231.80 L363.80,231.50" fill="none" stroke="#ff0000" stroke-width="2.2" stroke-linejoin="round" stroke-linecap="round"/>
<path d="M236.10,238.40 L236.92,237.71 L237.63,236.91 L238.26,236.06 L238.82,235.19 L239.34,234.29 L239.83,233.38 L240.28,232.46 L240.72,231.53 L241.13,230.60 L241.52,229.66 L241.91,228.71 L242.28,227.77 L242.63,226.82 L242.98,225.87 L243.32,224.91 L243.65,223.96 L243.97,223.00 L244.29,222.04 L244.60,221.08 L244.91,220.12 L245.21,219.16 L245.51,218.20 L245.80,217.24 L246.09,216.27 L246.37,215.31 L246.66,214.34 L246.93,213.38 L247.21,212.41 L247.48,211.44 L247.75,210.48 L248.02,209.51 L248.29,208.54 L248.55,207.57 L248.81,206.60 L249.08,205.64 L249.34,204.67 L249.59,203.70 L249.85,202.73 L250.11,201.76 L250.36,200.79 L250.61,199.82 L250.87,198.85 L251.12,197.88 L251.37,196.92 L251.62,195.95 L251.87,194.98 L252.12,194.01 L252.37,193.04 L252.62,192.07 L252.87,191.10 L253.12,190.13 L253.37,189.17 L253.62,188.20 L253.87,187.23 L254.12,186.26 L254.37,185.30 L254.62,184.33 L254.87,183.36 L255.12,182.40 L255.37,181.43 L255.63,180.46 L255.88,179.50 L256.14,178.54 L256.40,177.57 L256.65,176.61 L256.91,175.65 L257.17,174.68 L257.44,173.72 L257.70,172.76 L257.97,171.80 L258.24,170.84 L258.51,169.88 L258.78,168.93 L259.06,167.97 L259.33,167.02 L259.62,166.06 L259.90,165.11 L260.19,164.16 L260.48,163.21 L260.78,162.26 L261.08,161.32 L261.38,160.37 L261.69,159.43 L262.01,158.49 L262.33,157.56 L262.66,156.63 L263.00,155.70 L263.35,154.77 L263.70,153.85 L264.06,152.93 L264.43,152.01 L264.81,151.10 L265.20,150.20 L265.60,149.30 L266.02,148.41 L266.45,147.52 L266.89,146.64 L267.35,145.78 L267.82,144.92 L268.32,144.08 L268.84,143.25 L269.38,142.44 L269.95,141.65 L270.55,140.88 L271.19,140.15 L271.86,139.45 L272.58,138.81 L273.35,138.23 L274.18,137.73 L275.07,137.34 L276.01,137.09 L276.99,137.00 L277.99,137.08 L278.98,137.35 L279.92,137.76 L280.80,138.29 L281.63,138.92 L282.40,139.61 L283.12,140.34 L283.80,141.12 L284.44,141.92 L285.05,142.75 L285.62,143.59 L286.18,144.45 L286.71,145.32 L287.22,146.20 L287.71,147.10 L288.18,147.99 L288.64,148.90 L289.09,149.81 L289.52,150.73 L289.94,151.65 L290.35,152.57 L290.75,153.50 L291.14,154.44 L291.53,155.37 L291.90,156.31 L292.27,157.25 L292.63,158.19 L292.98,159.14 L293.33,160.08 L293.67,161.03 L294.01,161.98 L294.34,162.94 L294.66,163.89 L294.98,164.85 L295.30,165.80 L295.61,166.76 L295.92,167.72 L296.22,168.68 L296.52,169.64 L296.81,170.60 L297.10,171.56 L297.39,172.53 L297.68,173.49 L297.96,174.46 L298.24,175.42 L298.51,176.39 L298.78,177.36 L299.05,178.33 L299.32,179.30 L299.58,180.27 L299.85,181.24 L300.11,182.21 L300.36,183.18 L300.62,184.15 L300.87,185.12 L301.12,186.09 L301.37,187.07 L301.61,188.04 L301.86,189.01 L302.10,189.99 L302.34,190.96 L302.58,191.94 L302.82,192.91 L303.05,193.88 L303.29,194.86 L303.52,195.83 L303.76,196.80 L303.99,197.78 L304.22,198.75 L304.46,199.72 L304.69,200.70 L304.92,201.67 L305.16,202.64 L305.39,203.61 L305.62,204.58 L305.86,205.55 L306.09,206.52 L306.33,207.49 L306.56,208.46 L306.80,209.43 L307.04,210.40 L307.28,211.37 L307.53,212.33 L307.77,213.30 L308.02,214.26 L308.26,215.23 L308.52,216.19 L308.77,217.15 L309.03,218.11 L309.29,219.07 L309.55,220.02 L309.82,220.98 L310.09,221.93 L310.37,222.88 L310.65,223.83 L310.94,224.78 L311.24,225.72 L311.54,226.66 L311.85,227.59 L312.17,228.52 L312.51,229.44 L312.85,230.36 L313.22,231.26 L313.60,232.16 L314.00,233.04 L314.43,233.91 L314.88,234.76 L315.38,235.58 L315.92,236.36 L316.51,237.09 L317.18,237.75 L317.94,238.29 L318.81,238.63 L319.79,238.68 L320.78,238.37 L321.68,237.78 L322.45,237.04 L323.13,236.22 L323.73,235.36 L324.27,234.47 L324.77,233.57 L325.24,232.65 L325.68,231.72 L326.10,230.78 L326.49,229.84 L326.87,228.89 L327.24,227.94 L327.59,226.99 L327.93,226.04 L328.27,225.08 L328.59,224.12 L328.91,223.16 L329.22,222.20 L329.52,221.24 L329.82,220.27 L330.11,219.31 L330.40,218.34 L330.69,217.38 L330.97,216.41 L331.24,215.44 L331.52,214.47 L331.79,213.50 L332.05,212.54 L332.32,211.57 L332.58,210.60 L332.84,209.63 L333.10,208.66 L333.35,207.69 L333.61,206.71 L333.86,205.74 L334.11,204.77 L334.36,203.80 L334.60,202.83 L334.85,201.86 L335.10,200.89 L335.34,199.92 L335.59,198.94 L335.83,197.97 L336.07,197.00 L336.31,196.03 L336.55,195.06 L336.80,194.09 L337.04,193.12 L337.28,192.15 L337.52,191.18 L337.76,190.21 L338.00,189.24 L338.24,188.26 L338.48,187.30 L338.72,186.33 L338.96,185.36 L339.21,184.39 L339.45,183.42 L339.69,182.45 L339.94,181.48 L340.18,180.52 L340.43,179.55 L340.68,178.58 L340.92,177.62 L341.17,176.65 L341.43,175.69 L341.68,174.72 L341.93,173.76 L342.19,172.80 L342.45,171.83 L342.71,170.87 L342.97,169.91 L343.24,168.96 L343.51,168.00 L343.78,167.04 L344.05,166.09 L344.33,165.13 L344.61,164.18 L344.90,163.23 L345.19,162.28 L345.48,161.33 L345.78,160.39 L346.09,159.44 L346.40,158.50 L346.71,157.56 L347.03,156.62 L347.36,155.69 L347.69,154.76 L348.03,153.83 L348.38,152.90 L348.73,151.98 L349.09,151.06 L349.47,150.14 L349.85,149.23 L350.24,148.33 L350.64,147.43 L351.06,146.54 L351.49,145.65 L351.93,144.78 L352.39,143.91 L352.87,143.06 L353.37,142.22 L353.89,141.39 L354.44,140.59 L355.02,139.81 L355.63,139.06 L356.28,138.35 L356.98,137.69 L357.74,137.10 L358.56,136.60 L359.45,136.23 L360.40,136.03 L361.40,136.04 L362.39,136.27 L363.33,136.71 L363.80,137.01" fill="none" stroke="#00ff00" stroke-width="2.2" stroke-linejoin="round" stroke-linecap="round"/>
<path d="M236.10,238.43 L236.40,237.43 L236.68,236.44 L236.94,235.44 L237.19,234.45 L237.42,233.45 L237.65,232.46 L237.87,231.46 L238.07,230.47 L238.28,229.47 L238.47,228.48 L238.66,227.48 L238.85,226.49 L239.03,225.49 L239.20,224.49 L239.38,223.50 L239.55,222.50 L239.71,221.51 L239.88,220.51 L240.04,219.52 L240.19,218.52 L240.35,217.53 L240.50,216.53 L240.65,215.53 L240.80,214.54 L240.95,213.54 L241.09,212.55 L241.23,211.55 L241.38,210.56 L241.52,209.56 L241.65,208.57 L241.79,207.57 L241.93,206.57 L242.06,205.58 L242.19,204.58 L242.33,203.59 L242.46,202.59 L242.59,201.60 L242.71,200.60 L242.84,199.60 L242.97,198.61 L243.09,197.61 L243.22,196.62 L243.34,195.62 L243.47,194.63 L243.59,193.63 L243.71,192.64 L243.83,191.64 L243.95,190.64 L244.07,189.64 L244.19,188.64 L244.31,187.63 L244.43,186.61 L244.55,185.59 L244.67,184.57 L244.79,183.54 L244.91,182.50 L245.03,181.46 L245.15,180.42 L245.27,179.37 L245.39,178.32 L245.51,177.26 L245.63,176.20 L245.75,175.13 L245.87,174.06 L245.99,172.99 L246.11,171.91 L246.23,170.83 L246.35,169.75 L246.47,168.67 L246.59,167.58 L246.71,166.48 L246.83,165.39 L246.95,164.29 L247.07,163.19 L247.19,162.09 L247.31,160.98 L247.43,159.87 L247.55,158.76 L247.67,157.65 L247.79,156.54 L247.91,155.42 L248.03,154.30 L248.15,153.18 L248.27,152.06 L248.39,150.94 L248.51,149.82 L248.63,148.69 L248.75,147.57 L248.87,146.44 L248.99,145.32 L249.11,144.19 L249.23,143.06 L249.35,141.93 L249.47,140.80 L249.59,139.67 L249.71,138.54 L249.83,137.42 L249.95,136.29 L250.07,135.16 L250.19,134.03 L250.31,132.90 L250.43,131.78 L250.55,130.65 L250.67,129.52 L250.79,128.40 L250.91,127.28 L251.03,126.16 L251.15,125.03 L251.27,123.92 L251.39,122.80 L251.51,121.68 L251.63,120.57 L251.75,119.46 L251.87,118.35 L251.99,117.24 L252.11,116.13 L252.23,115.03 L252.35,113.93 L252.47,112.83 L252.59,111.74 L252.71,110.65 L252.83,109.56 L252.95,108.47 L253.07,107.39 L253.19,106.31 L253.31,105.23 L253.43,104.16 L253.55,103.09 L253.67,102.03 L253.79,100.96 L253.91,99.91 L254.03,98.85 L254.15,97.81 L254.27,96.76 L254.39,95.72 L254.51,94.69 L254.63,93.66 L254.75,92.63 L254.87,91.61 L254.99,90.60 L255.11,89.59 L255.23,88.58 L255.35,87.58 L255.47,86.59 L255.59,85.60 L255.71,84.61 L255.83,83.62 L255.96,82.63 L256.08,81.64 L256.20,80.65 L256.33,79.67 L256.45,78.68 L256.58,77.69 L256.71,76.70 L256.84,75.71 L256.97,74.73 L257.10,73.74 L257.23,72.75 L257.36,71.77 L257.50,70.78 L257.63,69.79 L257.77,68.81 L257.91,67.82 L258.05,66.84 L258.19,65.85 L258.33,64.87 L258.48,63.89 L258.62,62.90 L258.77,61.92 L258.92,60.94 L259.07,59.96 L259.23,58.98 L259.38,58.00 L259.54,57.02 L259.70,56.04 L259.87,55.06 L260.03,54.08 L260.20,53.10 L260.37,52.13 L260.55,51.15 L260.72,50.18 L260.90,49.20 L261.09,48.23 L261.28,47.26 L261.47,46.29 L261.67,45.32 L261.87,44.35 L262.07,43.39 L262.29,42.42 L262.50,41.46 L262.73,40.50 L262.96,39.54 L263.19,38.59 L263.44,37.64 L263.70,36.69 L263.96,35.75 L264.24,34.81 L264.53,33.88 L264.84,32.96 L265.16,32.05 L265.50,31.14 L265.87,30.26 L266.28,29.39 L266.72,28.56 L267.22,27.77 L267.79,27.06 L268.48,26.49 L269.34,26.20 L270.34,26.47 L271.19,27.23 L271.85,28.13 L272.38,29.07 L272.83,30.03 L273.24,31.00 L273.60,31.98 L273.94,32.96 L274.26,33.94 L274.56,34.92 L274.84,35.91 L275.11,36.89 L275.36,37.88 L275.61,38.87 L275.85,39.86 L276.08,40.84 L276.30,41.83 L276.52,42.82 L276.73,43.81 L276.94,44.81 L277.14,45.80 L277.34,46.79 L277.53,47.78 L277.72,48.77 L277.91,49.76 L278.09,50.76 L278.27,51.75 L278.44,52.74 L278.61,53.74 L278.78,54.73 L278.95,55.72 L279.12,56.71 L279.28,57.71 L279.44,58.70 L279.60,59.70 L279.76,60.69 L279.91,61.68 L280.06,62.68 L280.22,63.67 L280.37,64.67 L280.51,65.66 L280.66,66.65 L280.80,67.65 L280.95,68.64 L281.09,69.64 L281.23,70.63 L281.37,71.63 L281.51,72.62 L281.65,73.62 L281.78,74.61 L281.92,75.61 L282.05,76.60 L282.19,77.60 L282.32,78.59 L282.45,79.59 L282.58,80.58 L282.71,81.58 L282.84,82.57 L282.96,83.57 L283.09,84.56 L283.21,85.56 L283.34,86.55 L283.46,87.55 L283.59,88.54 L283.71,89.54 L283.83,90.53 L283.95,91.53 L284.07,92.53 L284.19,93.52 L284.31,94.52 L284.43,95.53 L284.55,96.54 L284.67,97.56 L284.79,98.59 L284.91,99.61 L285.03,100.65 L285.15,101.69 L285.27,102.73 L285.39,103.78 L285.51,104.83 L285.63,105.89 L285.75,106.95 L285.87,108.02 L285.99,109.10 L286.11,110.17 L286.23,111.26 L286.35,112.34 L286.47,113.43 L286.59,114.53 L286.71,115.63 L286.83,116.74 L286.95,117.85 L287.07,118.96 L287.19,120.08 L287.31,121.20 L287.43,122.33 L287.55,123.46 L287.67,124.59 L287.79,125.73 L287.91,126.87 L288.03,128.02 L288.15,129.17 L288.27,130.32 L288.39,131.48 L288.51,132.63 L288.63,133.80 L288.75,134.96 L288.87,136.13 L288.99,137.29 L289.11,138.46 L289.23,139.63 L289.35,140.81 L289.47,141.98 L289.59,143.16 L289.71,144.33 L289.83,145.51 L289.95,146.69 L290.07,147.87 L290.19,149.04 L290.31,150.22 L290.43,151.40 L290.55,152.58 L290.67,153.76 L290.79,154.93 L290.91,156.11 L291.03,157.28 L291.15,158.45 L291.27,159.63 L291.39,160.80 L291.51,161.96 L291.63,163.13 L291.75,164.29 L291.87,165.45 L291.99,166.61 L292.11,167.77 L292.23,168.92 L292.35,170.07 L292.47,171.22 L292.59,172.36 L292.71,173.50 L292.83,174.63 L292.95,175.76 L293.07,176.89 L293.19,178.01 L293.31,179.13 L293.43,180.24 L293.55,181.35 L293.67,182.45 L293.79,183.55 L293.91,184.64 L294.03,185.72 L294.15,186.80 L294.27,187.87 L294.39,188.94 L294.51,190.00 L294.63,191.05 L294.75,192.10 L294.87,193.14 L294.99,194.17 L295.11,195.19 L295.23,196.21 L295.35,197.22 L295.47,198.22 L295.59,199.21 L295.71,200.20 L295.84,201.18 L295.96,202.17 L296.08,203.16 L296.21,204.15 L296.33,205.13 L296.46,206.12 L296.59,207.11 L296.72,208.09 L296.85,209.08 L296.99,210.06 L297.12,211.04 L297.26,212.03 L297.40,213.01 L297.54,213.99 L297.69,214.97 L297.83,215.95 L297.98,216.93 L298.13,217.91 L298.29,218.89 L298.45,219.87 L298.61,220.84 L298.77,221.82 L298.94,222.79 L299.12,223.76 L299.30,224.73 L299.48,225.69 L299.67,226.65 L299.87,227.61 L300.08,228.57 L300.30,229.52 L300.52,230.46 L300.77,231.40 L301.03,232.33 L301.31,233.24 L301.61,234.13 L301.96,235.00 L302.36,235.81 L302.86,236.51 L303.53,236.92 L304.53,236.31 L305.12,235.23 L305.51,234.19 L305.84,233.16 L306.12,232.15 L306.37,231.13 L306.60,230.12 L306.82,229.11 L307.02,228.11 L307.21,227.10 L307.40,226.10 L307.58,225.09 L307.75,224.09 L307.91,223.09 L308.07,222.09 L308.23,221.09 L308.38,220.08 L308.53,219.08 L308.67,218.08 L308.81,217.08 L308.95,216.08 L309.08,215.08 L309.22,214.08 L309.35,213.08 L309.48,212.08 L309.60,211.08 L309.73,210.08 L309.85,209.09 L309.97,208.09 L310.09,207.09 L310.21,206.08 L310.33,205.05 L310.45,204.02 L310.57,202.98 L310.69,201.92 L310.81,200.85 L310.93,199.77 L311.05,198.69 L311.17,197.59 L311.29,196.48 L311.41,195.36 L311.53,194.24 L311.65,193.10 L311.77,191.96 L311.89,190.81 L312.01,189.65 L312.13,188.48 L312.25,187.30 L312.37,186.12 L312.49,184.93 L312.61,183.73 L312.73,182.53 L312.85,181.32 L312.97,180.10 L313.09,178.88 L313.21,177.65 L313.33,176.42 L313.45,175.18 L313.57,173.94 L313.69,172.69 L313.81,171.44 L313.93,170.18 L314.05,168.92 L314.17,167.66 L314.29,166.40 L314.41,165.13 L314.53,163.86 L314.65,162.58 L314.77,161.31 L314.89,160.03 L315.01,158.75 L315.13,157.47 L315.25,156.19 L315.37,154.91 L315.49,153.62 L315.61,152.34 L315.73,151.06 L315.85,149.77 L315.97,148.49 L316.09,147.20 L316.21,145.92 L316.33,144.64 L316.45,143.36 L316.57,142.07 L316.69,140.79 L316.81,139.52 L316.93,138.24 L317.05,136.96 L317.17,135.69 L317.29,134.42 L317.41,133.15 L317.53,131.88 L317.65,130.62 L317.77,129.36 L317.89,128.10 L318.01,126.85 L318.13,125.60 L318.25,124.35 L318.37,123.11 L318.49,121.87 L318.61,120.63 L318.73,119.40 L318.85,118.17 L318.97,116.95 L319.09,115.74 L319.21,114.52 L319.33,113.32 L319.45,112.12 L319.57,110.92 L319.69,109.73 L319.81,108.55 L319.93,107.37 L320.05,106.20 L320.17,105.04 L320.29,103.88 L320.41,102.73 L320.53,101.59 L320.65,100.45 L320.77,99.33 L320.89,98.21 L321.01,97.10 L321.13,95.99 L321.25,94.90 L321.37,93.81 L321.49,92.73 L321.61,91.66 L321.73,90.60 L321.85,89.54 L321.97,88.49 L322.09,87.46 L322.21,86.43 L322.33,85.40 L322.45,84.39 L322.57,83.39 L322.69,82.39 L322.81,81.40 L322.93,80.41 L323.06,79.42 L323.18,78.44 L323.30,77.45 L323.43,76.46 L323.56,75.47 L323.68,74.49 L323.81,73.50 L323.94,72.51 L324.07,71.53 L324.21,70.54 L324.34,69.55 L324.48,68.57 L324.61,67.58 L324.75,66.60 L324.89,65.62 L325.03,64.63 L325.18,63.65 L325.32,62.66 L325.47,61.68 L325.62,60.70 L325.77,59.72 L325.92,58.74 L326.08,57.76 L326.23,56.78 L326.39,55.80 L326.55,54.82 L326.72,53.84 L326.89,52.86 L327.06,51.89 L327.23,50.91 L327.41,49.93 L327.59,48.96 L327.77,47.99 L327.96,47.02 L328.15,46.05 L328.34,45.08 L328.54,44.11 L328.75,43.14 L328.96,42.18 L329.18,41.22 L329.40,40.26 L329.63,39.30 L329.86,38.35 L330.11,37.40 L330.37,36.45 L330.63,35.51 L330.91,34.57 L331.20,33.64 L331.51,32.72 L331.83,31.81 L332.18,30.91 L332.55,30.03 L332.96,29.17 L333.42,28.35 L333.93,27.58 L334.53,26.90 L335.26,26.39 L336.18,26.26 L337.16,26.75 L337.94,27.58 L338.54,28.49 L339.05,29.43 L339.49,30.39 L339.90,31.35 L340.26,32.32 L340.61,33.29 L340.93,34.27 L341.23,35.25 L341.53,36.23 L341.80,37.21 L342.07,38.20 L342.33,39.18 L342.57,40.17 L342.81,41.15 L343.05,42.14 L343.27,43.13 L343.50,44.11 L343.71,45.10 L343.92,46.09 L344.13,47.08 L344.33,48.07 L344.53,49.06 L344.72,50.05 L344.91,51.04 L345.10,52.03 L345.29,53.02 L345.47,54.02 L345.65,55.01 L345.82,56.00 L346.00,56.99 L346.17,57.98 L346.34,58.97 L346.50,59.97 L346.67,60.96 L346.83,61.95 L346.99,62.94 L347.15,63.94 L347.31,64.93 L347.46,65.92 L347.62,66.92 L347.77,67.91 L347.92,68.90 L348.07,69.90 L348.22,70.89 L348.36,71.88 L348.51,72.88 L348.65,73.87 L348.80,74.87 L348.94,75.86 L349.08,76.85 L349.22,77.85 L349.36,78.84 L349.49,79.84 L349.63,80.83 L349.77,81.83 L349.90,82.82 L350.03,83.81 L350.17,84.81 L350.30,85.80 L350.43,86.80 L350.56,87.79 L350.69,88.79 L350.82,89.78 L350.94,90.78 L351.07,91.77 L351.20,92.77 L351.32,93.76 L351.45,94.76 L351.57,95.75 L351.70,96.75 L351.82,97.74 L351.94,98.74 L352.06,99.73 L352.18,100.73 L352.30,101.72 L352.42,102.72 L352.54,103.72 L352.66,104.73 L352.78,105.74 L352.90,106.75 L353.02,107.77 L353.14,108.80 L353.26,109.83 L353.38,110.86 L353.50,111.90 L353.62,112.94 L353.74,113.99 L353.86,115.04 L353.98,116.10 L354.10,117.16 L354.22,118.22 L354.34,119.29 L354.46,120.36 L354.58,121.44 L354.70,122.52 L354.82,123.61 L354.94,124.70 L355.06,125.79 L355.18,126.89 L355.30,127.99 L355.42,129.09 L355.54,130.20 L355.66,131.32 L355.78,132.43 L355.90,133.55 L356.02,134.68 L356.14,135.80 L356.26,136.94 L356.38,138.07 L356.50,139.21 L356.62,140.35 L356.74,141.50 L356.86,142.65 L356.98,143.80 L357.10,144.96 L357.22,146.12 L357.34,147.28 L357.46,148.45 L357.58,149.62 L357.70,150.79 L357.82,151.96 L357.94,153.14 L358.06,154.33 L358.18,155.51 L358.30,156.70 L358.42,157.89 L358.54,159.09 L358.66,160.28 L358.78,161.48 L358.90,162.69 L359.02,163.89 L359.14,165.10 L359.26,166.31 L359.38,167.53 L359.50,168.74 L359.62,169.96 L359.74,171.18 L359.86,172.41 L359.98,173.64 L360.10,174.87 L360.22,176.10 L360.34,177.33 L360.46,178.57 L360.58,179.81 L360.70,181.05 L360.82,182.30 L360.94,183.54 L361.06,184.79 L361.18,186.04 L361.30,187.29 L361.42,188.55 L361.54,189.81 L361.66,191.06 L361.78,192.33 L361.90,193.59 L362.02,194.85 L362.14,196.12 L362.26,197.39 L362.38,198.66 L362.50,199.93 L362.62,201.20 L362.74,202.48 L362.86,203.76 L362.98,205.04 L363.10,206.32 L363.22,207.60 L363.34,208.88 L363.46,210.17 L363.58,211.45 L363.70,212.74 L363.80,213.77" fill="none" stroke="#0000ff" stroke-width="2.2" stroke-linejoin="round" stroke-linecap="round"/>
<path d="M427.60,231.20 L428.60,231.22 L429.60,231.25 L430.60,231.27 L431.60,231.29 L432.60,231.30 L433.60,231.32 L434.60,231.33 L435.60,231.35 L436.60,231.36 L437.60,231.37 L438.60,231.38 L439.60,231.38 L440.60,231.39 L441.60,231.39 L442.60,231.40 L443.60,231.40 L444.60,231.40 L445.60,231.40 L446.60,231.40 L447.60,231.40 L448.60,231.40 L449.60,231.39 L450.60,231.39 L451.60,231.38 L452.60,231.37 L453.60,231.36 L454.60,231.36 L455.60,231.35 L456.60,231.34 L457.60,231.33 L458.60,231.31 L459.60,231.30 L460.60,231.29 L461.60,231.27 L462.60,231.26 L463.60,231.25 L464.60,231.23 L465.60,231.21 L466.60,231.20 L467.60,231.18 L468.60,231.17 L469.60,231.15 L470.60,231.13 L471.60,231.11 L472.60,231.09 L473.60,231.08 L474.60,231.06 L475.60,231.04 L476.60,231.02 L477.60,231.00 L478.60,230.98 L479.60,230.97 L480.59,230.95 L481.59,230.93 L482.59,230.91 L483.59,230.89 L484.59,230.87 L485.59,230.86 L486.59,230.84 L487.59,230.82 L488.59,230.80 L489.59,230.79 L490.59,230.77 L491.59,230.76 L492.59,230.74 L493.59,230.72 L494.59,230.71 L495.59,230.70 L496.59,230.68 L497.59,230.67 L498.59,230.66 L499.59,230.65 L500.59,230.64 L501.59,230.63 L502.59,230.62 L503.59,230.61 L504.59,230.60 L505.59,230.60 L506.59,230.59 L507.59,230.59 L508.59,230.58 L509.59,230.58 L510.59,230.57 L511.59,230.57 L512.59,230.56 L513.59,230.56 L514.59,230.55 L515.59,230.54 L516.59,230.53 L517.59,230.52 L518.59,230.51 L519.59,230.50 L520.59,230.48 L521.59,230.46 L522.59,230.44 L523.59,230.42 L524.59,230.40 L525.59,230.37 L526.59,230.34 L527.59,230.30 L528.59,230.26 L529.59,230.22 L530.59,230.17 L531.59,230.12 L532.58,230.07 L533.58,230.01 L534.58,229.95 L535.58,229.88 L536.58,229.81 L537.57,229.74 L538.57,229.67 L539.57,229.60 L540.57,229.52 L541.56,229.45 L542.56,229.37 L543.56,229.30 L544.56,229.23 L545.55,229.16 L546.55,229.10 L547.55,229.03 L548.55,228.97 L549.55,228.92 L550.54,228.87 L551.54,228.82 L552.54,228.78 L553.54,228.75 L554.54,228.72 L555.40,228.70" fill="none" stroke="#000000" stroke-width="2.2" stroke-linejoin="round" stroke-linecap="round"/>
<path d="M427.60,231.20 L428.60,231.23 L429.60,231.26 L430.60,231.29 L431.60,231.31 L432.60,231.34 L433.60,231.35 L434.60,231.37 L435.60,231.38 L436.60,231.39 L437.60,231.39 L438.60,231.39 L439.60,231.39 L440.60,231.38 L441.60,231.37 L442.60,231.35 L443.60,231.33 L444.60,231.30 L445.60,231.26 L446.60,231.23 L447.59,231.18 L448.59,231.13 L449.59,231.08 L450.59,231.02 L451.59,230.95 L452.59,230.88 L453.58,230.80 L454.58,230.71 L455.58,230.62 L456.57,230.52 L457.57,230.42 L458.56,230.31 L459.55,230.19 L460.55,230.06 L461.54,229.92 L462.53,229.78 L463.52,229.63 L464.51,229.48 L465.49,229.31 L466.48,229.14 L467.46,228.96 L468.44,228.77 L469.43,228.57 L470.41,228.37 L471.38,228.15 L472.36,227.93 L473.33,227.70 L474.31,227.46 L475.28,227.21 L476.24,226.95 L477.21,226.69 L478.17,226.42 L479.13,226.13 L480.09,225.84 L481.05,225.54 L482.00,225.23 L482.95,224.91 L483.89,224.58 L484.84,224.25 L485.78,223.90 L486.71,223.55 L487.65,223.18 L488.58,222.81 L489.50,222.43 L490.43,222.04 L491.35,221.64 L492.26,221.23 L493.17,220.82 L494.08,220.39 L494.99,219.96 L495.89,219.52 L496.78,219.07 L497.67,218.61 L498.56,218.14 L499.44,217.67 L500.32,217.18 L501.19,216.69 L502.06,216.19 L502.93,215.68 L503.79,215.17 L504.64,214.65 L505.49,214.11 L506.34,213.58 L507.18,213.03 L508.02,212.48 L508.86,211.93 L509.69,211.37 L510.52,210.82 L511.35,210.26 L512.18,209.69 L513.00,209.13 L513.83,208.57 L514.66,208.01 L515.49,207.46 L516.32,206.90 L517.15,206.35 L517.99,205.81 L518.83,205.27 L519.67,204.73 L520.52,204.21 L521.37,203.69 L522.23,203.18 L523.09,202.69 L523.96,202.20 L524.84,201.73 L525.72,201.28 L526.62,200.84 L527.52,200.42 L528.43,200.02 L529.35,199.64 L530.28,199.29 L531.22,198.96 L532.17,198.67 L533.13,198.41 L534.10,198.18 L535.08,198.00 L536.07,197.85 L537.06,197.76 L538.06,197.70 L539.05,197.69 L540.05,197.73 L541.05,197.81 L542.05,197.93 L543.04,198.08 L544.02,198.28 L545.00,198.51 L545.97,198.77 L546.93,199.06 L547.89,199.37 L548.83,199.72 L549.76,200.09 L550.69,200.47 L551.61,200.88 L552.52,201.31 L553.42,201.76 L554.31,202.22 L555.20,202.69 L555.40,202.80" fill="none" stroke="#ff0000" stroke-width="2.2" stroke-linejoin="round" stroke-linecap="round"/>
<path d="M427.60,231.20 L428.60,231.18 L429.60,231.16 L430.60,231.14 L431.60,231.14 L432.60,231.13 L433.60,231.12 L434.60,231.12 L435.60,231.11 L436.60,231.10 L437.60,231.08 L438.60,231.06 L439.60,231.03 L440.60,230.99 L441.60,230.94 L442.60,230.87 L443.59,230.80 L444.59,230.70 L445.58,230.59 L446.58,230.47 L447.57,230.32 L448.56,230.15 L449.54,229.96 L450.52,229.75 L451.49,229.52 L452.46,229.26 L453.43,228.97 L454.38,228.66 L455.33,228.33 L456.27,227.97 L457.19,227.58 L458.11,227.17 L459.02,226.73 L459.91,226.26 L460.79,225.77 L461.66,225.26 L462.51,224.73 L463.35,224.17 L464.18,223.59 L464.99,222.99 L465.79,222.37 L466.57,221.73 L467.34,221.07 L468.09,220.40 L468.82,219.70 L469.54,218.99 L470.24,218.26 L470.93,217.51 L471.59,216.75 L472.24,215.97 L472.88,215.18 L473.49,214.38 L474.09,213.56 L474.68,212.73 L475.25,211.89 L475.80,211.05 L476.34,210.19 L476.87,209.32 L477.38,208.45 L477.88,207.57 L478.37,206.68 L478.84,205.79 L479.31,204.89 L479.76,203.99 L480.21,203.08 L480.64,202.17 L481.07,201.25 L481.48,200.33 L481.89,199.41 L482.30,198.49 L482.69,197.56 L483.08,196.63 L483.47,195.70 L483.85,194.77 L484.23,193.84 L484.60,192.91 L484.97,191.97 L485.34,191.04 L485.70,190.10 L486.06,189.17 L486.42,188.23 L486.78,187.29 L487.13,186.36 L487.48,185.42 L487.84,184.48 L488.19,183.54 L488.54,182.60 L488.88,181.67 L489.23,180.73 L489.58,179.79 L489.93,178.85 L490.27,177.91 L490.62,176.97 L490.97,176.04 L491.31,175.10 L491.66,174.16 L492.01,173.23 L492.36,172.29 L492.71,171.36 L493.06,170.43 L493.42,169.49 L493.77,168.56 L494.13,167.63 L494.49,166.70 L494.85,165.77 L495.22,164.85 L495.59,163.92 L495.96,163.00 L496.34,162.08 L496.71,161.16 L497.10,160.24 L497.49,159.33 L497.88,158.42 L498.28,157.51 L498.69,156.60 L499.10,155.70 L499.52,154.81 L499.95,153.92 L500.39,153.03 L500.84,152.15 L501.30,151.28 L501.78,150.42 L502.26,149.56 L502.77,148.72 L503.30,147.90 L503.84,147.09 L504.42,146.30 L505.02,145.54 L505.66,144.81 L506.34,144.13 L507.08,143.51 L507.87,142.97 L508.74,142.56 L509.68,142.32 L510.66,142.28 L511.66,142.46 L512.62,142.84 L513.52,143.37 L514.34,144.01 L515.10,144.71 L515.81,145.47 L516.47,146.26 L517.09,147.08 L517.68,147.92 L518.23,148.78 L518.77,149.65 L519.28,150.53 L519.77,151.42 L520.25,152.32 L520.71,153.22 L521.16,154.13 L521.60,155.04 L522.03,155.95 L522.46,156.87 L522.87,157.79 L523.27,158.71 L523.67,159.64 L524.07,160.57 L524.45,161.49 L524.84,162.42 L525.22,163.36 L525.59,164.29 L525.96,165.22 L526.33,166.16 L526.69,167.09 L527.05,168.03 L527.41,168.97 L527.77,169.90 L528.12,170.84 L528.48,171.78 L528.83,172.72 L529.18,173.65 L529.53,174.59 L529.88,175.53 L530.22,176.47 L530.57,177.41 L530.92,178.35 L531.27,179.28 L531.61,180.22 L531.96,181.16 L532.31,182.10 L532.65,183.03 L533.00,183.97 L533.35,184.90 L533.70,185.84 L534.06,186.77 L534.41,187.70 L534.77,188.63 L535.13,189.56 L535.49,190.49 L535.85,191.42 L536.22,192.35 L536.59,193.27 L536.96,194.19 L537.34,195.11 L537.72,196.03 L538.10,196.95 L538.49,197.86 L538.89,198.77 L539.29,199.68 L539.70,200.59 L540.11,201.49 L540.53,202.39 L540.96,203.28 L541.39,204.18 L541.83,205.06 L542.28,205.95 L542.73,206.83 L543.19,207.70 L543.67,208.57 L544.15,209.44 L544.64,210.30 L545.14,211.15 L545.66,211.99 L546.19,212.83 L546.73,213.65 L547.28,214.47 L547.85,215.27 L548.44,216.06 L549.05,216.84 L549.67,217.60 L550.32,218.34 L550.99,219.05 L551.68,219.75 L552.41,220.41 L553.16,221.03 L553.95,221.61 L554.77,222.14 L555.40,222.49" fill="none" stroke="#00ff00" stroke-width="2.2" stroke-linejoin="round" stroke-linecap="round"/>
<path d="M427.60,231.20 L428.60,231.25 L429.60,231.29 L430.60,231.32 L431.60,231.33 L432.60,231.32 L433.60,231.29 L434.60,231.25 L435.59,231.18 L436.59,231.08 L437.58,230.96 L438.58,230.81 L439.56,230.64 L440.54,230.43 L441.52,230.19 L442.49,229.92 L443.45,229.62 L444.39,229.29 L445.33,228.92 L446.26,228.52 L447.17,228.09 L448.07,227.64 L448.95,227.15 L449.82,226.63 L450.67,226.08 L451.50,225.51 L452.32,224.92 L453.12,224.30 L453.90,223.66 L454.67,223.00 L455.42,222.32 L456.15,221.62 L456.85,220.89 L457.54,220.13 L458.19,219.35 L458.82,218.54 L459.42,217.71 L460.00,216.86 L460.54,215.99 L461.06,215.11 L461.56,214.22 L462.03,213.31 L462.48,212.39 L462.92,211.47 L463.33,210.54 L463.73,209.60 L464.12,208.65 L464.48,207.70 L464.84,206.75 L465.18,205.79 L465.52,204.83 L465.84,203.87 L466.15,202.90 L466.45,201.93 L466.74,200.96 L467.03,199.99 L467.31,199.02 L467.58,198.04 L467.84,197.06 L468.10,196.08 L468.35,195.10 L468.59,194.12 L468.83,193.14 L469.06,192.15 L469.29,191.17 L469.52,190.19 L469.74,189.20 L469.96,188.22 L470.17,187.23 L470.38,186.25 L470.58,185.26 L470.79,184.27 L470.99,183.29 L471.19,182.30 L471.38,181.31 L471.58,180.33 L471.77,179.34 L471.95,178.35 L472.14,177.36 L472.33,176.37 L472.51,175.39 L472.69,174.40 L472.87,173.41 L473.05,172.42 L473.22,171.43 L473.40,170.44 L473.57,169.45 L473.74,168.46 L473.91,167.48 L474.08,166.49 L474.25,165.50 L474.41,164.51 L474.58,163.52 L474.74,162.53 L474.91,161.54 L475.07,160.55 L475.23,159.56 L475.39,158.57 L475.55,157.58 L475.71,156.59 L475.87,155.60 L476.02,154.61 L476.18,153.62 L476.33,152.63 L476.49,151.64 L476.64,150.65 L476.79,149.66 L476.95,148.67 L477.10,147.68 L477.25,146.68 L477.40,145.69 L477.55,144.70 L477.70,143.71 L477.85,142.72 L478.00,141.73 L478.15,140.74 L478.29,139.75 L478.44,138.76 L478.59,137.77 L478.73,136.78 L478.88,135.79 L479.02,134.80 L479.17,133.81 L479.31,132.82 L479.46,131.82 L479.60,130.83 L479.74,129.84 L479.89,128.85 L480.03,127.86 L480.17,126.87 L480.32,125.88 L480.46,124.89 L480.60,123.90 L480.74,122.91 L480.88,121.92 L481.02,120.93 L481.16,119.94 L481.31,118.94 L481.45,117.95 L481.59,116.96 L481.73,115.97 L481.87,114.98 L482.01,113.99 L482.15,113.00 L482.29,112.01 L482.43,111.02 L482.57,110.03 L482.71,109.04 L482.85,108.06 L482.99,107.07 L483.13,106.08 L483.27,105.09 L483.41,104.10 L483.56,103.11 L483.70,102.12 L483.84,101.14 L483.99,100.15 L484.13,99.16 L484.28,98.18 L484.42,97.19 L484.57,96.20 L484.72,95.22 L484.87,94.23 L485.02,93.25 L485.17,92.26 L485.32,91.28 L485.47,90.29 L485.63,89.31 L485.78,88.33 L485.94,87.34 L486.10,86.36 L486.26,85.38 L486.42,84.40 L486.59,83.42 L486.75,82.44 L486.92,81.46 L487.09,80.49 L487.27,79.51 L487.45,78.53 L487.63,77.56 L487.81,76.59 L488.00,75.62 L488.19,74.65 L488.39,73.68 L488.59,72.71 L488.80,71.75 L489.01,70.79 L489.23,69.84 L489.46,68.88 L489.70,67.94 L489.95,66.99 L490.22,66.06 L490.50,65.13 L490.80,64.22 L491.13,63.33 L491.49,62.46 L491.90,61.63 L492.38,60.89 L493.00,60.29 L493.84,60.09 L494.82,60.71 L495.50,61.65 L496.01,62.62 L496.44,63.60 L496.82,64.58 L497.16,65.57 L497.48,66.55 L497.77,67.54 L498.05,68.53 L498.31,69.52 L498.56,70.51 L498.81,71.50 L499.04,72.49 L499.26,73.48 L499.48,74.47 L499.70,75.46 L499.90,76.45 L500.10,77.44 L500.30,78.43 L500.49,79.42 L500.68,80.41 L500.87,81.41 L501.05,82.40 L501.23,83.39 L501.41,84.38 L501.58,85.38 L501.75,86.37 L501.92,87.36 L502.09,88.35 L502.25,89.34 L502.42,90.34 L502.58,91.33 L502.74,92.32 L502.89,93.31 L503.05,94.30 L503.21,95.29 L503.36,96.29 L503.51,97.28 L503.67,98.27 L503.82,99.26 L503.97,100.25 L504.12,101.24 L504.27,102.23 L504.42,103.22 L504.57,104.21 L504.72,105.20 L504.86,106.19 L505.01,107.18 L505.16,108.17 L505.31,109.16 L505.45,110.15 L505.60,111.14 L505.75,112.13 L505.90,113.12 L506.04,114.10 L506.19,115.09 L506.34,116.08 L506.49,117.07 L506.64,118.05 L506.79,119.04 L506.94,120.03 L507.09,121.01 L507.24,122.00 L507.39,122.99 L507.55,123.97 L507.70,124.96 L507.85,125.94 L508.01,126.92 L508.17,127.91 L508.33,128.89 L508.49,129.87 L508.65,130.85 L508.81,131.83 L508.98,132.81 L509.15,133.79 L509.32,134.77 L509.49,135.75 L509.67,136.73 L509.84,137.70 L510.02,138.68 L510.20,139.66 L510.39,140.64 L510.57,141.61 L510.76,142.59 L510.95,143.56 L511.15,144.54 L511.34,145.52 L511.54,146.49 L511.73,147.47 L511.93,148.45 L512.13,149.42 L512.34,150.40 L512.54,151.37 L512.74,152.35 L512.95,153.33 L513.16,154.31 L513.36,155.28 L513.57,156.26 L513.77,157.24 L513.98,158.22 L514.19,159.20 L514.39,160.18 L514.60,161.16 L514.80,162.14 L515.01,163.12 L515.21,164.10 L515.41,165.08 L515.62,166.06 L515.82,167.04 L516.02,168.02 L516.23,168.99 L516.43,169.97 L516.64,170.95 L516.84,171.93 L517.04,172.91 L517.25,173.88 L517.45,174.86 L517.66,175.84 L517.87,176.82 L518.07,177.79 L518.28,178.77 L518.49,179.74 L518.70,180.72 L518.91,181.69 L519.12,182.67 L519.34,183.64 L519.55,184.62 L519.77,185.59 L519.98,186.56 L520.20,187.53 L520.42,188.50 L520.64,189.47 L520.87,190.44 L521.10,191.41 L521.33,192.38 L521.56,193.35 L521.79,194.31 L522.03,195.28 L522.27,196.24 L522.51,197.20 L522.76,198.16 L523.01,199.12 L523.27,200.08 L523.53,201.03 L523.80,201.99 L524.07,202.94 L524.35,203.89 L524.63,204.83 L524.93,205.77 L525.23,206.71 L525.54,207.64 L525.86,208.57 L526.20,209.50 L526.54,210.42 L526.90,211.33 L527.27,212.24 L527.65,213.14 L528.05,214.03 L528.47,214.92 L528.91,215.80 L529.36,216.66 L529.84,217.52 L530.33,218.36 L530.86,219.18 L531.40,219.99 L531.98,220.78 L532.58,221.55 L533.21,222.30 L533.86,223.03 L534.55,223.73 L535.25,224.42 L535.98,225.08 L536.74,225.71 L537.52,226.32 L538.32,226.89 L539.14,227.43 L539.99,227.93 L540.86,228.40 L541.75,228.83 L542.66,229.22 L543.59,229.58 L544.53,229.89 L545.49,230.16 L546.45,230.40 L547.43,230.60 L548.41,230.77 L549.40,230.91 L550.39,231.03 L551.38,231.13 L552.38,231.21 L553.38,231.28 L554.37,231.34 L555.37,231.40 L555.40,231.40" fill="none" stroke="#0000ff" stroke-width="2.2" stroke-linejoin="round" stroke-linecap="round"/>
<path d="M613.60,237.10 L614.60,237.09 L615.60,237.07 L616.60,237.06 L617.60,237.05 L618.60,237.04 L619.60,237.02 L620.60,237.01 L621.60,237.00 L622.60,236.99 L623.60,236.98 L624.60,236.97 L625.60,236.95 L626.60,236.94 L627.60,236.93 L628.60,236.92 L629.60,236.91 L630.60,236.90 L631.60,236.89 L632.60,236.88 L633.60,236.87 L634.60,236.86 L635.60,236.85 L636.60,236.84 L637.60,236.83 L638.60,236.82 L639.60,236.81 L640.60,236.80 L641.60,236.79 L642.60,236.78 L643.60,236.77 L644.60,236.76 L645.60,236.75 L646.60,236.74 L647.60,236.73 L648.60,236.72 L649.60,236.71 L650.60,236.70 L651.60,236.69 L652.60,236.68 L653.60,236.67 L654.60,236.66 L655.60,236.65 L656.60,236.64 L657.60,236.63 L658.60,236.62 L659.60,236.60 L660.60,236.59 L661.60,236.58 L662.60,236.57 L663.60,236.56 L664.60,236.55 L665.60,236.54 L666.60,236.52 L667.60,236.51 L668.60,236.50 L669.60,236.49 L670.60,236.48 L671.60,236.46 L672.60,236.45 L673.60,236.44 L674.60,236.42 L675.60,236.41 L676.60,236.39 L677.60,236.38 L678.60,236.37 L679.60,236.35 L680.60,236.34 L681.60,236.32 L682.60,236.30 L683.60,236.29 L684.60,236.27 L685.59,236.26 L686.59,236.24 L687.59,236.22 L688.59,236.20 L689.59,236.19 L690.59,236.17 L691.59,236.15 L692.59,236.13 L693.59,236.11 L694.59,236.09 L695.59,236.07 L696.59,236.05 L697.59,236.03 L698.59,236.01 L699.59,235.99 L700.59,235.96 L701.59,235.94 L702.59,235.92 L703.59,235.89 L704.59,235.87 L705.59,235.85 L706.59,235.82 L707.59,235.80 L708.59,235.77 L709.59,235.74 L710.59,235.72 L711.59,235.69 L712.59,235.66 L713.59,235.63 L714.59,235.60 L715.59,235.57 L716.59,235.54 L717.59,235.51 L718.59,235.48 L719.59,235.45 L720.58,235.42 L721.58,235.38 L722.58,235.35 L723.58,235.32 L724.58,235.28 L725.58,235.25 L726.58,235.21 L727.58,235.17 L728.58,235.14 L729.58,235.10 L730.58,235.06 L731.58,235.02 L732.58,234.98 L733.58,234.94 L734.58,234.90 L735.57,234.86 L736.57,234.81 L737.57,234.77 L738.57,234.72 L739.57,234.68 L740.57,234.63 L741.30,234.60" fill="none" stroke="#000000" stroke-width="2.2" stroke-linejoin="round" stroke-linecap="round"/>
<path d="M613.60,237.10 L614.60,237.13 L615.60,237.16 L616.60,237.18 L617.60,237.20 L618.60,237.22 L619.60,237.23 L620.60,237.24 L621.60,237.25 L622.60,237.25 L623.60,237.25 L624.60,237.25 L625.60,237.24 L626.60,237.23 L627.60,237.21 L628.60,237.19 L629.60,237.16 L630.60,237.13 L631.60,237.09 L632.60,237.05 L633.59,237.00 L634.59,236.95 L635.59,236.89 L636.59,236.82 L637.59,236.75 L638.58,236.68 L639.58,236.59 L640.58,236.50 L641.57,236.41 L642.57,236.30 L643.56,236.20 L644.56,236.08 L645.55,235.96 L646.54,235.83 L647.53,235.69 L648.52,235.54 L649.51,235.39 L650.50,235.23 L651.49,235.06 L652.47,234.89 L653.45,234.71 L654.44,234.51 L655.42,234.32 L656.40,234.11 L657.37,233.89 L658.35,233.67 L659.32,233.44 L660.30,233.20 L661.27,232.95 L662.23,232.69 L663.20,232.43 L664.16,232.15 L665.12,231.87 L666.08,231.58 L667.04,231.28 L667.99,230.97 L668.94,230.66 L669.89,230.33 L670.83,230.00 L671.77,229.65 L672.71,229.30 L673.64,228.94 L674.58,228.57 L675.50,228.19 L676.43,227.81 L677.35,227.41 L678.27,227.01 L679.18,226.60 L680.09,226.18 L680.99,225.75 L681.90,225.31 L682.79,224.87 L683.69,224.41 L684.58,223.95 L685.46,223.48 L686.34,223.00 L687.22,222.52 L688.09,222.02 L688.96,221.52 L689.83,221.01 L690.69,220.50 L691.54,219.97 L692.39,219.45 L693.24,218.91 L694.08,218.37 L694.93,217.83 L695.77,217.29 L696.61,216.74 L697.45,216.20 L698.28,215.65 L699.12,215.11 L699.96,214.56 L700.80,214.02 L701.64,213.48 L702.48,212.95 L703.33,212.41 L704.17,211.89 L705.03,211.37 L705.88,210.85 L706.74,210.35 L707.60,209.85 L708.47,209.36 L709.35,208.88 L710.23,208.42 L711.12,207.97 L712.01,207.53 L712.92,207.11 L713.83,206.71 L714.75,206.33 L715.67,205.97 L716.61,205.64 L717.56,205.33 L718.51,205.05 L719.48,204.80 L720.45,204.58 L721.43,204.40 L722.41,204.26 L723.41,204.15 L724.40,204.08 L725.40,204.05 L726.40,204.06 L727.40,204.11 L728.40,204.19 L729.39,204.32 L730.38,204.48 L731.37,204.68 L732.34,204.92 L733.31,205.18 L734.27,205.49 L735.22,205.82 L736.16,206.19 L737.08,206.58 L737.99,207.01 L738.90,207.45 L739.79,207.93 L740.66,208.42 L741.30,208.80" fill="none" stroke="#ff0000" stroke-width="2.2" stroke-linejoin="round" stroke-linecap="round"/>
<path d="M613.60,237.10 L614.60,237.13 L615.60,237.15 L616.60,237.17 L617.60,237.18 L618.60,237.18 L619.60,237.18 L620.60,237.17 L621.60,237.16 L622.60,237.13 L623.60,237.09 L624.60,237.05 L625.60,236.99 L626.59,236.92 L627.59,236.84 L628.59,236.74 L629.58,236.63 L630.58,236.51 L631.57,236.37 L632.56,236.22 L633.54,236.04 L634.53,235.86 L635.51,235.65 L636.48,235.43 L637.46,235.19 L638.42,234.93 L639.39,234.65 L640.35,234.35 L641.30,234.04 L642.24,233.70 L643.18,233.35 L644.12,232.97 L645.04,232.58 L645.96,232.17 L646.86,231.74 L647.76,231.29 L648.65,230.82 L649.54,230.34 L650.41,229.84 L651.27,229.32 L652.12,228.78 L652.96,228.23 L653.79,227.67 L654.61,227.08 L655.42,226.49 L656.22,225.88 L657.01,225.25 L657.79,224.61 L658.56,223.96 L659.32,223.30 L660.07,222.62 L660.80,221.94 L661.53,221.23 L662.24,220.51 L662.93,219.77 L663.60,219.01 L664.25,218.23 L664.88,217.43 L665.49,216.62 L666.08,215.78 L666.65,214.94 L667.20,214.08 L667.72,213.21 L668.23,212.32 L668.72,211.43 L669.19,210.53 L669.65,209.62 L670.09,208.70 L670.51,207.78 L670.93,206.85 L671.32,205.92 L671.71,204.98 L672.09,204.04 L672.45,203.09 L672.81,202.14 L673.15,201.19 L673.48,200.23 L673.81,199.27 L674.13,198.31 L674.44,197.35 L674.74,196.38 L675.04,195.41 L675.33,194.45 L675.61,193.48 L675.89,192.51 L676.17,191.55 L676.45,190.58 L676.72,189.62 L676.99,188.65 L677.26,187.69 L677.53,186.73 L677.80,185.76 L678.07,184.80 L678.34,183.84 L678.61,182.88 L678.88,181.92 L679.16,180.96 L679.43,180.00 L679.71,179.05 L679.99,178.09 L680.27,177.14 L680.56,176.18 L680.84,175.23 L681.14,174.28 L681.43,173.34 L681.73,172.39 L682.04,171.45 L682.35,170.51 L682.67,169.58 L683.00,168.65 L683.34,167.72 L683.68,166.80 L684.04,165.89 L684.42,164.98 L684.81,164.08 L685.21,163.19 L685.63,162.30 L686.06,161.42 L686.51,160.54 L686.98,159.68 L687.46,158.82 L687.95,157.96 L688.46,157.12 L688.99,156.29 L689.53,155.47 L690.09,154.67 L690.68,153.88 L691.29,153.13 L691.94,152.40 L692.62,151.72 L693.35,151.09 L694.14,150.53 L694.98,150.08 L695.90,149.78 L696.88,149.68 L697.88,149.84 L698.84,150.24 L699.71,150.83 L700.49,151.55 L701.19,152.34 L701.81,153.18 L702.39,154.04 L702.92,154.92 L703.42,155.82 L703.90,156.72 L704.36,157.63 L704.81,158.54 L705.24,159.46 L705.65,160.39 L706.06,161.31 L706.46,162.24 L706.85,163.17 L707.23,164.10 L707.61,165.03 L707.99,165.97 L708.36,166.90 L708.72,167.84 L709.09,168.77 L709.45,169.71 L709.81,170.64 L710.17,171.57 L710.53,172.51 L710.88,173.44 L711.24,174.37 L711.60,175.30 L711.96,176.24 L712.33,177.17 L712.69,178.09 L713.05,179.02 L713.42,179.95 L713.79,180.88 L714.16,181.80 L714.53,182.73 L714.91,183.65 L715.28,184.58 L715.66,185.50 L716.04,186.42 L716.42,187.35 L716.80,188.27 L717.19,189.18 L717.58,190.10 L717.97,191.02 L718.36,191.94 L718.76,192.85 L719.16,193.76 L719.56,194.68 L719.96,195.59 L720.37,196.49 L720.78,197.40 L721.20,198.31 L721.61,199.21 L722.03,200.11 L722.46,201.02 L722.89,201.91 L723.32,202.81 L723.76,203.70 L724.20,204.60 L724.64,205.49 L725.09,206.37 L725.55,207.26 L726.01,208.14 L726.47,209.02 L726.95,209.89 L727.42,210.76 L727.91,211.63 L728.40,212.49 L728.90,213.35 L729.40,214.20 L729.92,215.05 L730.44,215.90 L730.97,216.73 L731.51,217.56 L732.06,218.39 L732.62,219.20 L733.19,220.01 L733.77,220.81 L734.37,221.60 L734.98,222.37 L735.61,223.14 L736.25,223.89 L736.91,224.62 L737.59,225.33 L738.29,226.03 L739.01,226.69 L739.76,227.34 L740.53,227.94 L741.30,228.50" fill="none" stroke="#00ff00" stroke-width="2.2" stroke-linejoin="round" stroke-linecap="round"/>
<path d="M613.60,237.10 L614.60,237.14 L615.60,237.17 L616.60,237.18 L617.60,237.17 L618.60,237.15 L619.60,237.10 L620.60,237.04 L621.59,236.95 L622.59,236.84 L623.58,236.71 L624.57,236.56 L625.56,236.38 L626.54,236.18 L627.52,235.95 L628.49,235.70 L629.45,235.42 L630.41,235.12 L631.36,234.79 L632.30,234.43 L633.23,234.06 L634.15,233.65 L635.06,233.23 L635.96,232.77 L636.85,232.28 L637.71,231.75 L638.55,231.18 L639.37,230.57 L640.15,229.92 L640.90,229.23 L641.62,228.50 L642.31,227.75 L642.97,226.96 L643.60,226.15 L644.19,225.32 L644.77,224.47 L645.31,223.61 L645.83,222.73 L646.33,221.84 L646.81,220.94 L647.28,220.03 L647.72,219.11 L648.15,218.19 L648.56,217.26 L648.96,216.33 L649.35,215.39 L649.72,214.44 L650.08,213.49 L650.43,212.54 L650.78,211.59 L651.11,210.63 L651.43,209.67 L651.75,208.71 L652.06,207.74 L652.36,206.78 L652.65,205.81 L652.94,204.84 L653.22,203.87 L653.49,202.89 L653.76,201.92 L654.02,200.95 L654.28,199.97 L654.53,198.99 L654.78,198.02 L655.03,197.04 L655.27,196.06 L655.51,195.08 L655.74,194.10 L655.97,193.12 L656.20,192.14 L656.42,191.16 L656.64,190.17 L656.86,189.19 L657.07,188.21 L657.28,187.22 L657.49,186.24 L657.70,185.26 L657.90,184.27 L658.11,183.29 L658.31,182.30 L658.50,181.31 L658.70,180.33 L658.89,179.34 L659.08,178.36 L659.27,177.37 L659.46,176.38 L659.65,175.39 L659.83,174.41 L660.01,173.42 L660.19,172.43 L660.37,171.44 L660.55,170.45 L660.73,169.46 L660.90,168.48 L661.07,167.49 L661.25,166.50 L661.42,165.51 L661.58,164.52 L661.75,163.53 L661.92,162.54 L662.08,161.55 L662.25,160.56 L662.41,159.57 L662.57,158.58 L662.73,157.59 L662.89,156.59 L663.05,155.60 L663.20,154.61 L663.36,153.62 L663.51,152.63 L663.67,151.64 L663.82,150.65 L663.97,149.66 L664.12,148.67 L664.27,147.67 L664.42,146.68 L664.57,145.69 L664.72,144.70 L664.87,143.71 L665.02,142.72 L665.16,141.73 L665.31,140.74 L665.45,139.75 L665.60,138.76 L665.74,137.77 L665.89,136.77 L666.03,135.78 L666.18,134.79 L666.32,133.80 L666.46,132.81 L666.61,131.82 L666.75,130.83 L666.89,129.84 L667.04,128.85 L667.18,127.86 L667.32,126.88 L667.47,125.89 L667.61,124.90 L667.75,123.91 L667.90,122.92 L668.04,121.93 L668.19,120.94 L668.33,119.95 L668.48,118.96 L668.62,117.98 L668.77,116.99 L668.91,116.00 L669.06,115.01 L669.21,114.03 L669.35,113.04 L669.50,112.05 L669.65,111.07 L669.80,110.08 L669.95,109.09 L670.10,108.11 L670.25,107.12 L670.41,106.14 L670.56,105.15 L670.71,104.17 L670.87,103.18 L671.03,102.20 L671.18,101.22 L671.34,100.23 L671.51,99.25 L671.67,98.27 L671.83,97.29 L672.00,96.31 L672.17,95.33 L672.34,94.35 L672.51,93.37 L672.68,92.39 L672.86,91.42 L673.04,90.44 L673.22,89.47 L673.41,88.49 L673.59,87.52 L673.79,86.55 L673.98,85.58 L674.18,84.61 L674.39,83.64 L674.60,82.68 L674.81,81.72 L675.04,80.76 L675.27,79.81 L675.51,78.85 L675.75,77.91 L676.01,76.97 L676.28,76.03 L676.57,75.10 L676.88,74.19 L677.21,73.29 L677.57,72.41 L677.97,71.57 L678.43,70.78 L678.98,70.09 L679.70,69.63 L680.65,69.72 L681.55,70.48 L682.19,71.41 L682.69,72.37 L683.13,73.33 L683.52,74.31 L683.87,75.28 L684.20,76.26 L684.51,77.24 L684.80,78.22 L685.08,79.21 L685.35,80.19 L685.61,81.18 L685.85,82.16 L686.09,83.15 L686.33,84.13 L686.56,85.12 L686.78,86.11 L687.00,87.10 L687.21,88.08 L687.42,89.07 L687.62,90.06 L687.82,91.05 L688.02,92.04 L688.21,93.02 L688.40,94.01 L688.59,95.00 L688.78,95.99 L688.96,96.98 L689.14,97.97 L689.32,98.96 L689.50,99.95 L689.68,100.94 L689.85,101.93 L690.02,102.92 L690.20,103.90 L690.37,104.89 L690.53,105.88 L690.70,106.87 L690.87,107.86 L691.03,108.85 L691.20,109.84 L691.36,110.83 L691.52,111.82 L691.68,112.81 L691.84,113.80 L692.00,114.79 L692.16,115.78 L692.32,116.77 L692.48,117.76 L692.63,118.75 L692.79,119.74 L692.95,120.73 L693.10,121.72 L693.26,122.71 L693.41,123.69 L693.56,124.68 L693.72,125.67 L693.87,126.66 L694.02,127.65 L694.18,128.64 L694.33,129.63 L694.48,130.62 L694.64,131.61 L694.79,132.59 L694.94,133.58 L695.09,134.57 L695.24,135.56 L695.40,136.55 L695.55,137.54 L695.70,138.52 L695.85,139.51 L696.01,140.50 L696.16,141.49 L696.31,142.48 L696.46,143.46 L696.62,144.45 L696.77,145.44 L696.92,146.42 L697.08,147.41 L697.23,148.40 L697.39,149.38 L697.54,150.37 L697.70,151.36 L697.86,152.34 L698.01,153.33 L698.17,154.31 L698.33,155.30 L698.49,156.28 L698.65,157.27 L698.81,158.25 L698.97,159.24 L699.13,160.22 L699.30,161.20 L699.46,162.19 L699.63,163.17 L699.80,164.15 L699.96,165.13 L700.13,166.11 L700.30,167.10 L700.47,168.08 L700.65,169.06 L700.82,170.04 L701.00,171.02 L701.18,171.99 L701.36,172.97 L701.54,173.95 L701.73,174.93 L701.91,175.91 L702.10,176.88 L702.29,177.86 L702.48,178.83 L702.68,179.81 L702.87,180.78 L703.07,181.76 L703.27,182.73 L703.48,183.70 L703.68,184.68 L703.89,185.65 L704.10,186.62 L704.32,187.59 L704.53,188.56 L704.75,189.53 L704.98,190.50 L705.20,191.46 L705.43,192.43 L705.66,193.39 L705.90,194.36 L706.14,195.32 L706.38,196.28 L706.62,197.25 L706.87,198.21 L707.13,199.16 L707.39,200.12 L707.65,201.08 L707.92,202.03 L708.19,202.99 L708.47,203.94 L708.75,204.89 L709.04,205.83 L709.33,206.78 L709.63,207.72 L709.93,208.66 L710.25,209.60 L710.57,210.54 L710.89,211.47 L711.22,212.40 L711.57,213.33 L711.92,214.25 L712.28,215.17 L712.64,216.09 L713.02,217.00 L713.41,217.90 L713.81,218.80 L714.22,219.70 L714.65,220.59 L715.09,221.47 L715.54,222.34 L716.01,223.20 L716.50,224.05 L717.00,224.90 L717.53,225.73 L718.07,226.54 L718.64,227.34 L719.23,228.12 L719.85,228.88 L720.49,229.61 L721.17,230.32 L721.87,231.00 L722.61,231.64 L723.38,232.25 L724.18,232.81 L725.01,233.33 L725.88,233.80 L726.77,234.22 L727.69,234.58 L728.63,234.90 L729.58,235.17 L730.55,235.39 L731.53,235.58 L732.52,235.73 L733.50,235.87 L734.50,235.99 L735.49,236.11 L736.48,236.24 L737.47,236.37 L738.46,236.53 L739.45,236.72 L740.43,236.96 L741.30,237.20" fill="none" stroke="#0000ff" stroke-width="2.2" stroke-linejoin="round" stroke-linecap="round"/>
<rect x="65.0" y="2.0" width="84.2" height="121.5" fill="#fff" stroke="#111" stroke-width="1.6"/>
<text x="68.30" y="21.60" font-size="18" text-anchor="start" >P<tspan font-size="11.5" dy="4">f0</tspan><tspan dy="-4" dx="0.9"> (W)</tspan></text>
<line x1="67.20" y1="42.00" x2="109.90" y2="42.00" stroke="#000000" stroke-width="2.05"/>
<text x="114.00" y="48.70" font-size="18.5" text-anchor="start" >0.1</text>
<line x1="67.20" y1="65.00" x2="109.90" y2="65.00" stroke="#ff0000" stroke-width="2.05"/>
<text x="114.00" y="71.70" font-size="18.5" text-anchor="start" >1.7</text>
<line x1="67.20" y1="88.00" x2="109.90" y2="88.00" stroke="#00ff00" stroke-width="2.05"/>
<text x="114.00" y="94.70" font-size="18.5" text-anchor="start" >2.03</text>
<line x1="67.20" y1="111.00" x2="109.90" y2="111.00" stroke="#0000ff" stroke-width="2.05"/>
<text x="114.00" y="117.70" font-size="18.5" text-anchor="start" >3</text>
<text x="-0.30" y="38.80" font-size="18.5" text-anchor="start" >(a)</text>
<text x="191.50" y="39.30" font-size="18.5" text-anchor="start" >(b)</text>
<text x="383.00" y="40.00" font-size="18.5" text-anchor="start" >(c)</text>
<text x="569.00" y="40.00" font-size="18.5" text-anchor="start" >(d)</text>
<text transform="translate(14.90,126.80) rotate(-90)" font-size="18.5" text-anchor="middle">P<tspan font-size="12.5" dy="5.0">f</tspan><tspan dy="-5.0"> (W)</tspan></text>
<text transform="translate(202.60,126.60) rotate(-90)" font-size="20.5" text-anchor="middle">P<tspan font-size="13.0" dy="6.0">sh</tspan><tspan dy="-6.0"> (W)</tspan></text>
<text transform="translate(399.30,126.50) rotate(-90)" font-size="18.5" text-anchor="middle">P<tspan font-size="12.5" dy="5.0">S</tspan><tspan dy="-5.0"> (W)</tspan></text>
<text transform="translate(586.90,126.90) rotate(-90)" font-size="18.5" text-anchor="middle">P<tspan font-size="12.0" dy="5.5">i</tspan><tspan dy="-5.5"> (W)</tspan></text>
<text x="385.50" y="295.80" font-size="18.5" text-anchor="middle" >Propagation Length (mm)</text>
<line x1="44.10" y1="527.60" x2="44.10" y2="535.90" stroke="#333" stroke-width="1.5"/>
<line x1="44.10" y1="353.50" x2="44.10" y2="361.80" stroke="#333" stroke-width="1.5"/>
<line x1="90.55" y1="527.60" x2="90.55" y2="535.90" stroke="#333" stroke-width="1.5"/>
<line x1="90.55" y1="353.50" x2="90.55" y2="361.80" stroke="#333" stroke-width="1.5"/>
<line x1="137.00" y1="527.60" x2="137.00" y2="535.90" stroke="#333" stroke-width="1.5"/>
<line x1="137.00" y1="353.50" x2="137.00" y2="361.80" stroke="#333" stroke-width="1.5"/>
<line x1="183.45" y1="527.60" x2="183.45" y2="535.90" stroke="#333" stroke-width="1.5"/>
<line x1="183.45" y1="353.50" x2="183.45" y2="361.80" stroke="#333" stroke-width="1.5"/>
<line x1="229.90" y1="527.60" x2="229.90" y2="535.90" stroke="#333" stroke-width="1.5"/>
<line x1="229.90" y1="353.50" x2="229.90" y2="361.80" stroke="#333" stroke-width="1.5"/>
<line x1="67.33" y1="527.60" x2="67.33" y2="531.80" stroke="#333" stroke-width="1.5"/>
<line x1="67.33" y1="353.50" x2="67.33" y2="357.70" stroke="#333" stroke-width="1.5"/>
<line x1="113.78" y1="527.60" x2="113.78" y2="531.80" stroke="#333" stroke-width="1.5"/>
<line x1="113.78" y1="353.50" x2="113.78" y2="357.70" stroke="#333" stroke-width="1.5"/>
<line x1="160.22" y1="527.60" x2="160.22" y2="531.80" stroke="#333" stroke-width="1.5"/>
<line x1="160.22" y1="353.50" x2="160.22" y2="357.70" stroke="#333" stroke-width="1.5"/>
<line x1="206.68" y1="527.60" x2="206.68" y2="531.80" stroke="#333" stroke-width="1.5"/>
<line x1="206.68" y1="353.50" x2="206.68" y2="357.70" stroke="#333" stroke-width="1.5"/>
<line x1="35.80" y1="527.60" x2="44.10" y2="527.60" stroke="#333" stroke-width="1.5"/>
<line x1="221.60" y1="527.60" x2="229.90" y2="527.60" stroke="#333" stroke-width="1.5"/>
<line x1="35.80" y1="469.57" x2="44.10" y2="469.57" stroke="#333" stroke-width="1.5"/>
<line x1="221.60" y1="469.57" x2="229.90" y2="469.57" stroke="#333" stroke-width="1.5"/>
<line x1="35.80" y1="411.54" x2="44.10" y2="411.54" stroke="#333" stroke-width="1.5"/>
<line x1="221.60" y1="411.54" x2="229.90" y2="411.54" stroke="#333" stroke-width="1.5"/>
<line x1="35.80" y1="353.51" x2="44.10" y2="353.51" stroke="#333" stroke-width="1.5"/>
<line x1="221.60" y1="353.51" x2="229.90" y2="353.51" stroke="#333" stroke-width="1.5"/>
<line x1="39.90" y1="498.59" x2="44.10" y2="498.59" stroke="#333" stroke-width="1.5"/>
<line x1="225.70" y1="498.59" x2="229.90" y2="498.59" stroke="#333" stroke-width="1.5"/>
<line x1="39.90" y1="440.56" x2="44.10" y2="440.56" stroke="#333" stroke-width="1.5"/>
<line x1="225.70" y1="440.56" x2="229.90" y2="440.56" stroke="#333" stroke-width="1.5"/>
<line x1="39.90" y1="382.53" x2="44.10" y2="382.53" stroke="#333" stroke-width="1.5"/>
<line x1="225.70" y1="382.53" x2="229.90" y2="382.53" stroke="#333" stroke-width="1.5"/>
<rect x="44.10" y="353.50" width="185.80" height="174.10" fill="none" stroke="#333" stroke-width="2.0"/>
<text x="44.10" y="556.20" font-size="18.5" text-anchor="middle" >-2</text>
<text x="90.55" y="556.20" font-size="18.5" text-anchor="middle" >-1</text>
<text x="137.00" y="556.20" font-size="18.5" text-anchor="middle" >0</text>
<text x="183.45" y="556.20" font-size="18.5" text-anchor="middle" >1</text>
<text x="229.90" y="556.20" font-size="18.5" text-anchor="middle" >2</text>
<text x="29.80" y="533.10" font-size="18.5" text-anchor="end" >0</text>
<text x="29.80" y="475.07" font-size="18.5" text-anchor="end" >1</text>
<text x="29.80" y="417.04" font-size="18.5" text-anchor="end" >2</text>
<text x="29.80" y="359.01" font-size="18.5" text-anchor="end" >3</text>
<line x1="292.35" y1="527.60" x2="292.35" y2="535.90" stroke="#333" stroke-width="1.5"/>
<line x1="292.35" y1="353.50" x2="292.35" y2="361.80" stroke="#333" stroke-width="1.5"/>
<line x1="338.89" y1="527.60" x2="338.89" y2="535.90" stroke="#333" stroke-width="1.5"/>
<line x1="338.89" y1="353.50" x2="338.89" y2="361.80" stroke="#333" stroke-width="1.5"/>
<line x1="385.43" y1="527.60" x2="385.43" y2="535.90" stroke="#333" stroke-width="1.5"/>
<line x1="385.43" y1="353.50" x2="385.43" y2="361.80" stroke="#333" stroke-width="1.5"/>
<line x1="431.96" y1="527.60" x2="431.96" y2="535.90" stroke="#333" stroke-width="1.5"/>
<line x1="431.96" y1="353.50" x2="431.96" y2="361.80" stroke="#333" stroke-width="1.5"/>
<line x1="478.50" y1="527.60" x2="478.50" y2="535.90" stroke="#333" stroke-width="1.5"/>
<line x1="478.50" y1="353.50" x2="478.50" y2="361.80" stroke="#333" stroke-width="1.5"/>
<line x1="315.62" y1="527.60" x2="315.62" y2="531.80" stroke="#333" stroke-width="1.5"/>
<line x1="315.62" y1="353.50" x2="315.62" y2="357.70" stroke="#333" stroke-width="1.5"/>
<line x1="362.16" y1="527.60" x2="362.16" y2="531.80" stroke="#333" stroke-width="1.5"/>
<line x1="362.16" y1="353.50" x2="362.16" y2="357.70" stroke="#333" stroke-width="1.5"/>
<line x1="408.69" y1="527.60" x2="408.69" y2="531.80" stroke="#333" stroke-width="1.5"/>
<line x1="408.69" y1="353.50" x2="408.69" y2="357.70" stroke="#333" stroke-width="1.5"/>
<line x1="455.23" y1="527.60" x2="455.23" y2="531.80" stroke="#333" stroke-width="1.5"/>
<line x1="455.23" y1="353.50" x2="455.23" y2="357.70" stroke="#333" stroke-width="1.5"/>
<line x1="284.05" y1="527.60" x2="292.35" y2="527.60" stroke="#333" stroke-width="1.5"/>
<line x1="470.20" y1="527.60" x2="478.50" y2="527.60" stroke="#333" stroke-width="1.5"/>
<line x1="284.05" y1="411.53" x2="292.35" y2="411.53" stroke="#333" stroke-width="1.5"/>
<line x1="470.20" y1="411.53" x2="478.50" y2="411.53" stroke="#333" stroke-width="1.5"/>
<line x1="284.05" y1="353.50" x2="292.35" y2="353.50" stroke="#333" stroke-width="1.5"/>
<line x1="470.20" y1="353.50" x2="478.50" y2="353.50" stroke="#333" stroke-width="1.5"/>
<line x1="288.15" y1="469.57" x2="292.35" y2="469.57" stroke="#333" stroke-width="1.5"/>
<line x1="474.30" y1="469.57" x2="478.50" y2="469.57" stroke="#333" stroke-width="1.5"/>
<line x1="288.15" y1="382.51" x2="292.35" y2="382.51" stroke="#333" stroke-width="1.5"/>
<line x1="474.30" y1="382.51" x2="478.50" y2="382.51" stroke="#333" stroke-width="1.5"/>
<rect x="292.35" y="353.50" width="186.15" height="174.10" fill="none" stroke="#333" stroke-width="2.0"/>
<text x="292.35" y="556.20" font-size="18.5" text-anchor="middle" >-2</text>
<text x="338.89" y="556.20" font-size="18.5" text-anchor="middle" >-1</text>
<text x="385.43" y="556.20" font-size="18.5" text-anchor="middle" >0</text>
<text x="431.96" y="556.20" font-size="18.5" text-anchor="middle" >1</text>
<text x="478.50" y="556.20" font-size="18.5" text-anchor="middle" >2</text>
<text x="278.05" y="533.10" font-size="18.5" text-anchor="end" >0</text>
<text x="278.05" y="417.03" font-size="18.5" text-anchor="end" >1</text>
<text x="278.05" y="359.00" font-size="18.5" text-anchor="end" >1.5</text>
<line x1="556.90" y1="527.60" x2="556.90" y2="535.90" stroke="#333" stroke-width="1.5"/>
<line x1="556.90" y1="353.50" x2="556.90" y2="361.80" stroke="#333" stroke-width="1.5"/>
<line x1="603.38" y1="527.60" x2="603.38" y2="535.90" stroke="#333" stroke-width="1.5"/>
<line x1="603.38" y1="353.50" x2="603.38" y2="361.80" stroke="#333" stroke-width="1.5"/>
<line x1="649.85" y1="527.60" x2="649.85" y2="535.90" stroke="#333" stroke-width="1.5"/>
<line x1="649.85" y1="353.50" x2="649.85" y2="361.80" stroke="#333" stroke-width="1.5"/>
<line x1="696.32" y1="527.60" x2="696.32" y2="535.90" stroke="#333" stroke-width="1.5"/>
<line x1="696.32" y1="353.50" x2="696.32" y2="361.80" stroke="#333" stroke-width="1.5"/>
<line x1="742.80" y1="527.60" x2="742.80" y2="535.90" stroke="#333" stroke-width="1.5"/>
<line x1="742.80" y1="353.50" x2="742.80" y2="361.80" stroke="#333" stroke-width="1.5"/>
<line x1="580.14" y1="527.60" x2="580.14" y2="531.80" stroke="#333" stroke-width="1.5"/>
<line x1="580.14" y1="353.50" x2="580.14" y2="357.70" stroke="#333" stroke-width="1.5"/>
<line x1="626.61" y1="527.60" x2="626.61" y2="531.80" stroke="#333" stroke-width="1.5"/>
<line x1="626.61" y1="353.50" x2="626.61" y2="357.70" stroke="#333" stroke-width="1.5"/>
<line x1="673.09" y1="527.60" x2="673.09" y2="531.80" stroke="#333" stroke-width="1.5"/>
<line x1="673.09" y1="353.50" x2="673.09" y2="357.70" stroke="#333" stroke-width="1.5"/>
<line x1="719.56" y1="527.60" x2="719.56" y2="531.80" stroke="#333" stroke-width="1.5"/>
<line x1="719.56" y1="353.50" x2="719.56" y2="357.70" stroke="#333" stroke-width="1.5"/>
<line x1="548.60" y1="527.60" x2="556.90" y2="527.60" stroke="#333" stroke-width="1.5"/>
<line x1="734.50" y1="527.60" x2="742.80" y2="527.60" stroke="#333" stroke-width="1.5"/>
<line x1="548.60" y1="469.57" x2="556.90" y2="469.57" stroke="#333" stroke-width="1.5"/>
<line x1="734.50" y1="469.57" x2="742.80" y2="469.57" stroke="#333" stroke-width="1.5"/>
<line x1="548.60" y1="353.51" x2="556.90" y2="353.51" stroke="#333" stroke-width="1.5"/>
<line x1="734.50" y1="353.51" x2="742.80" y2="353.51" stroke="#333" stroke-width="1.5"/>
<line x1="552.70" y1="498.59" x2="556.90" y2="498.59" stroke="#333" stroke-width="1.5"/>
<line x1="738.60" y1="498.59" x2="742.80" y2="498.59" stroke="#333" stroke-width="1.5"/>
<line x1="552.70" y1="411.54" x2="556.90" y2="411.54" stroke="#333" stroke-width="1.5"/>
<line x1="738.60" y1="411.54" x2="742.80" y2="411.54" stroke="#333" stroke-width="1.5"/>
<rect x="556.90" y="353.50" width="185.90" height="174.10" fill="none" stroke="#333" stroke-width="2.0"/>
<text x="556.90" y="556.20" font-size="18.5" text-anchor="middle" >-2</text>
<text x="603.38" y="556.20" font-size="18.5" text-anchor="middle" >-1</text>
<text x="649.85" y="556.20" font-size="18.5" text-anchor="middle" >0</text>
<text x="696.32" y="556.20" font-size="18.5" text-anchor="middle" >1</text>
<text x="742.80" y="556.20" font-size="18.5" text-anchor="middle" >2</text>
<text x="542.60" y="533.10" font-size="18.5" text-anchor="end" >0.1</text>
<text x="542.60" y="475.07" font-size="18.5" text-anchor="end" >0.2</text>
<text x="542.60" y="359.01" font-size="18.5" text-anchor="end" >0.4</text>
<path d="M44.10,527.50 L45.10,527.52 L46.10,527.53 L47.10,527.54 L48.10,527.55 L49.10,527.55 L50.10,527.54 L51.10,527.53 L52.10,527.52 L53.10,527.50 L54.10,527.47 L55.10,527.44 L56.10,527.41 L57.10,527.38 L58.10,527.34 L59.10,527.29 L60.10,527.25 L61.09,527.20 L62.09,527.15 L63.09,527.09 L64.09,527.03 L65.09,526.97 L66.09,526.91 L67.08,526.85 L68.08,526.78 L69.08,526.72 L70.08,526.65 L71.07,526.58 L72.07,526.50 L73.07,526.43 L74.07,526.36 L75.06,526.28 L76.06,526.21 L77.06,526.13 L78.06,526.06 L79.05,525.98 L80.05,525.91 L81.05,525.83 L82.04,525.76 L83.04,525.68 L84.04,525.61 L85.04,525.54 L86.03,525.46 L87.03,525.40 L88.03,525.33 L89.03,525.26 L90.02,525.20 L91.02,525.13 L92.02,525.07 L93.02,525.01 L94.02,524.96 L95.02,524.90 L96.01,524.85 L97.01,524.81 L98.01,524.76 L99.01,524.72 L100.01,524.68 L101.01,524.65 L102.01,524.62 L103.01,524.60 L104.01,524.57 L105.01,524.56 L106.01,524.55 L107.01,524.54 L108.01,524.53 L109.01,524.54 L110.01,524.54 L111.01,524.56 L112.01,524.58 L113.01,524.60 L114.01,524.63 L115.01,524.67 L116.01,524.71 L117.01,524.74 L118.00,524.75 L119.00,524.73 L120.00,524.66 L121.00,524.54 L121.99,524.34 L122.96,524.06 L123.91,523.69 L124.82,523.25 L125.70,522.72 L126.54,522.12 L127.33,521.46 L128.07,520.75 L128.77,519.99 L129.43,519.20 L130.05,518.38 L130.64,517.53 L131.19,516.67 L131.72,515.79 L132.22,514.90 L132.70,514.00 L133.16,513.08 L133.60,512.16 L134.02,511.23 L134.42,510.30 L134.81,509.35 L135.19,508.40 L135.55,507.45 L135.89,506.48 L136.22,505.52 L136.53,504.55 L136.84,503.57 L137.13,502.59 L137.41,501.61 L137.68,500.63 L137.93,499.65 L138.18,498.66 L138.43,497.67 L138.66,496.68 L138.88,495.69 L139.10,494.70 L139.32,493.71 L139.52,492.71 L139.72,491.72 L139.92,490.73 L140.11,489.73 L140.29,488.73 L140.47,487.74 L140.64,486.74 L140.82,485.74 L140.98,484.75 L141.15,483.75 L141.31,482.75 L141.46,481.75 L141.62,480.75 L141.77,479.76 L141.92,478.76 L142.06,477.76 L142.20,476.76 L142.34,475.76 L142.48,474.76 L142.61,473.76 L142.75,472.76 L142.88,471.76 L143.00,470.76 L143.13,469.76 L143.25,468.76 L143.38,467.76 L143.50,466.76 L143.62,465.75 L143.74,464.72 L143.86,463.67 L143.98,462.61 L144.10,461.54 L144.22,460.45 L144.34,459.34 L144.46,458.22 L144.58,457.08 L144.70,455.92 L144.82,454.75 L144.94,453.56 L145.06,452.36 L145.18,451.14 L145.30,449.90 L145.42,448.64 L145.54,447.37 L145.66,446.08 L145.78,444.77 L145.90,443.44 L146.02,442.10 L146.14,440.73 L146.26,439.36 L146.38,437.96 L146.50,436.56 L146.62,435.14 L146.74,433.71 L146.86,432.28 L146.98,430.84 L147.10,429.39 L147.22,427.94 L147.34,426.49 L147.46,425.04 L147.58,423.59 L147.70,422.14 L147.82,420.70 L147.94,419.26 L148.06,417.84 L148.18,416.42 L148.30,415.01 L148.42,413.62 L148.54,412.24 L148.66,410.88 L148.78,409.54 L148.90,408.21 L149.02,406.91 L149.14,405.63 L149.26,404.37 L149.38,403.14 L149.50,401.94 L149.62,400.77 L149.74,399.63 L149.86,398.52 L149.98,397.44 L150.10,396.40 L150.22,395.40 L150.34,394.43 L150.46,393.45 L150.59,392.48 L150.73,391.51 L150.87,390.55 L151.02,389.58 L151.18,388.62 L151.34,387.66 L151.52,386.70 L151.70,385.74 L151.89,384.78 L152.09,383.83 L152.30,382.87 L152.52,381.92 L152.75,380.97 L152.99,380.01 L153.24,379.06 L153.49,378.12 L153.76,377.18 L154.04,376.24 L154.34,375.32 L154.65,374.41 L154.99,373.51 L155.36,372.63 L155.77,371.79 L156.23,370.99 L156.78,370.29 L157.48,369.80 L158.42,369.88 L159.30,370.76 L159.86,371.76 L160.29,372.77 L160.65,373.78 L160.97,374.79 L161.25,375.80 L161.51,376.80 L161.75,377.81 L161.97,378.82 L162.18,379.82 L162.38,380.83 L162.57,381.83 L162.76,382.84 L162.93,383.84 L163.10,384.85 L163.26,385.85 L163.42,386.86 L163.57,387.86 L163.71,388.87 L163.86,389.87 L163.99,390.87 L164.13,391.87 L164.26,392.88 L164.39,393.88 L164.52,394.88 L164.64,395.88 L164.77,396.88 L164.89,397.88 L165.01,398.88 L165.13,399.90 L165.25,400.94 L165.37,401.98 L165.49,403.04 L165.61,404.11 L165.73,405.19 L165.85,406.29 L165.97,407.39 L166.09,408.51 L166.21,409.63 L166.33,410.76 L166.45,411.90 L166.57,413.05 L166.69,414.21 L166.81,415.38 L166.93,416.55 L167.05,417.73 L167.17,418.91 L167.29,420.10 L167.41,421.29 L167.53,422.49 L167.65,423.69 L167.77,424.90 L167.89,426.11 L168.01,427.32 L168.13,428.53 L168.25,429.75 L168.37,430.96 L168.49,432.18 L168.61,433.40 L168.73,434.61 L168.85,435.83 L168.97,437.04 L169.09,438.25 L169.21,439.46 L169.33,440.67 L169.45,441.87 L169.57,443.07 L169.69,444.27 L169.81,445.46 L169.93,446.65 L170.05,447.83 L170.17,449.00 L170.29,450.17 L170.41,451.33 L170.53,452.48 L170.65,453.63 L170.77,454.77 L170.89,455.89 L171.01,457.01 L171.13,458.12 L171.25,459.22 L171.37,460.31 L171.49,461.38 L171.61,462.45 L171.73,463.50 L171.85,464.54 L171.97,465.56 L172.09,466.57 L172.21,467.57 L172.33,468.56 L172.45,469.54 L172.57,470.53 L172.70,471.51 L172.83,472.50 L172.96,473.48 L173.09,474.46 L173.22,475.44 L173.36,476.43 L173.50,477.41 L173.64,478.39 L173.78,479.37 L173.93,480.35 L174.08,481.33 L174.23,482.31 L174.39,483.28 L174.55,484.26 L174.71,485.24 L174.87,486.21 L175.04,487.19 L175.21,488.16 L175.39,489.13 L175.57,490.11 L175.75,491.08 L175.94,492.04 L176.14,493.01 L176.34,493.98 L176.54,494.94 L176.75,495.91 L176.97,496.87 L177.19,497.83 L177.42,498.79 L177.66,499.74 L177.90,500.70 L178.16,501.65 L178.42,502.59 L178.69,503.54 L178.97,504.48 L179.26,505.42 L179.55,506.36 L179.86,507.29 L180.18,508.22 L180.52,509.14 L180.86,510.06 L181.22,510.97 L181.59,511.88 L181.98,512.77 L182.39,513.66 L182.82,514.54 L183.27,515.40 L183.74,516.25 L184.24,517.09 L184.77,517.90 L185.34,518.68 L185.94,519.44 L186.58,520.16 L187.27,520.84 L188.00,521.47 L188.79,522.04 L189.62,522.54 L190.50,522.97 L191.42,523.32 L192.37,523.60 L193.33,523.82 L194.32,524.00 L195.30,524.16 L196.29,524.29 L197.28,524.42 L198.27,524.54 L199.27,524.64 L200.26,524.73 L201.26,524.81 L202.26,524.88 L203.26,524.94 L204.25,524.99 L205.25,525.04 L206.25,525.08 L207.25,525.11 L208.25,525.13 L209.25,525.15 L210.25,525.17 L211.25,525.18 L212.25,525.19 L213.25,525.20 L214.25,525.21 L215.25,525.21 L216.25,525.22 L217.25,525.23 L218.25,525.23 L219.25,525.25 L220.25,525.26 L221.25,525.28 L222.25,525.30 L223.25,525.33 L224.25,525.36 L225.25,525.40 L226.25,525.45 L227.25,525.51 L228.24,525.57 L229.24,525.65 L229.90,525.70" fill="none" stroke="#0000ff" stroke-width="2.2" stroke-linejoin="round" stroke-linecap="round"/>
<path d="M292.35,527.60 L293.35,527.62 L294.35,527.63 L295.35,527.64 L296.35,527.65 L297.35,527.66 L298.35,527.67 L299.35,527.67 L300.35,527.67 L301.35,527.67 L302.35,527.66 L303.35,527.65 L304.35,527.64 L305.35,527.63 L306.35,527.62 L307.35,527.60 L308.35,527.58 L309.35,527.56 L310.35,527.54 L311.35,527.52 L312.35,527.49 L313.35,527.46 L314.35,527.43 L315.35,527.39 L316.35,527.36 L317.35,527.32 L318.34,527.28 L319.34,527.23 L320.34,527.19 L321.34,527.14 L322.34,527.09 L323.34,527.04 L324.34,526.99 L325.34,526.93 L326.33,526.88 L327.33,526.82 L328.33,526.76 L329.33,526.69 L330.33,526.63 L331.32,526.56 L332.32,526.49 L333.32,526.42 L334.32,526.34 L335.31,526.27 L336.31,526.19 L337.31,526.11 L338.31,526.03 L339.30,525.95 L340.30,525.87 L341.30,525.79 L342.29,525.71 L343.29,525.64 L344.29,525.58 L345.29,525.52 L346.28,525.48 L347.28,525.45 L348.28,525.44 L349.28,525.45 L350.28,525.47 L351.28,525.52 L352.28,525.59 L353.28,525.69 L354.27,525.81 L355.26,525.97 L356.25,526.15 L357.23,526.36 L358.20,526.61 L359.17,526.87 L360.14,527.07 L361.13,527.16 L362.13,527.05 L363.10,526.69 L363.99,526.08 L364.75,525.31 L365.39,524.45 L365.95,523.54 L366.44,522.60 L366.88,521.65 L367.27,520.68 L367.64,519.70 L367.97,518.72 L368.29,517.74 L368.58,516.75 L368.86,515.76 L369.12,514.77 L369.37,513.78 L369.61,512.79 L369.84,511.79 L370.06,510.80 L370.27,509.80 L370.47,508.80 L370.67,507.81 L370.86,506.81 L371.04,505.81 L371.22,504.81 L371.40,503.81 L371.57,502.81 L371.73,501.81 L371.89,500.81 L372.05,499.82 L372.20,498.82 L372.35,497.82 L372.50,496.82 L372.64,495.82 L372.78,494.82 L372.92,493.81 L373.06,492.81 L373.19,491.81 L373.32,490.81 L373.45,489.81 L373.57,488.81 L373.70,487.81 L373.82,486.81 L373.94,485.81 L374.06,484.80 L374.18,483.78 L374.30,482.74 L374.42,481.70 L374.54,480.64 L374.66,479.56 L374.78,478.48 L374.90,477.39 L375.02,476.29 L375.14,475.18 L375.26,474.06 L375.38,472.93 L375.50,471.79 L375.62,470.65 L375.74,469.50 L375.86,468.34 L375.98,467.17 L376.10,466.00 L376.22,464.82 L376.34,463.64 L376.46,462.45 L376.58,461.26 L376.70,460.07 L376.82,458.87 L376.94,457.67 L377.06,456.46 L377.18,455.25 L377.30,454.04 L377.42,452.83 L377.54,451.62 L377.66,450.41 L377.78,449.20 L377.90,447.98 L378.02,446.77 L378.14,445.56 L378.26,444.35 L378.38,443.15 L378.50,441.94 L378.62,440.74 L378.74,439.54 L378.86,438.34 L378.98,437.15 L379.10,435.97 L379.22,434.78 L379.34,433.61 L379.46,432.44 L379.58,431.27 L379.70,430.11 L379.82,428.96 L379.94,427.82 L380.06,426.68 L380.18,425.55 L380.30,424.43 L380.42,423.32 L380.54,422.22 L380.66,421.13 L380.78,420.05 L380.90,418.98 L381.02,417.92 L381.14,416.87 L381.26,415.83 L381.38,414.81 L381.50,413.80 L381.62,412.80 L381.74,411.82 L381.86,410.83 L381.99,409.85 L382.11,408.86 L382.24,407.88 L382.37,406.90 L382.50,405.92 L382.64,404.94 L382.78,403.96 L382.92,402.98 L383.06,402.00 L383.21,401.03 L383.36,400.06 L383.52,399.09 L383.69,398.12 L383.86,397.16 L384.04,396.20 L384.22,395.24 L384.42,394.29 L384.63,393.35 L384.86,392.42 L385.11,391.51 L385.38,390.62 L385.70,389.76 L386.09,388.98 L386.61,388.35 L387.40,388.24 L388.29,389.30 L388.77,390.34 L389.14,391.36 L389.46,392.37 L389.74,393.38 L390.00,394.39 L390.24,395.39 L390.46,396.39 L390.67,397.39 L390.88,398.39 L391.07,399.40 L391.26,400.39 L391.44,401.39 L391.62,402.39 L391.79,403.39 L391.96,404.39 L392.12,405.39 L392.28,406.39 L392.44,407.38 L392.59,408.38 L392.74,409.38 L392.89,410.38 L393.03,411.37 L393.18,412.37 L393.32,413.37 L393.46,414.36 L393.60,415.36 L393.73,416.36 L393.87,417.35 L394.00,418.35 L394.13,419.34 L394.26,420.34 L394.39,421.34 L394.52,422.33 L394.65,423.33 L394.77,424.32 L394.90,425.32 L395.02,426.31 L395.15,427.31 L395.27,428.30 L395.39,429.30 L395.52,430.30 L395.64,431.29 L395.76,432.29 L395.88,433.28 L396.00,434.28 L396.12,435.28 L396.24,436.28 L396.36,437.29 L396.48,438.30 L396.60,439.32 L396.72,440.33 L396.84,441.35 L396.96,442.37 L397.08,443.39 L397.20,444.42 L397.32,445.44 L397.44,446.47 L397.56,447.49 L397.68,448.52 L397.80,449.54 L397.92,450.57 L398.04,451.59 L398.16,452.62 L398.28,453.64 L398.40,454.66 L398.52,455.68 L398.64,456.70 L398.76,457.71 L398.88,458.72 L399.00,459.72 L399.12,460.72 L399.24,461.72 L399.36,462.71 L399.48,463.70 L399.60,464.69 L399.72,465.68 L399.84,466.67 L399.97,467.65 L400.09,468.64 L400.22,469.63 L400.35,470.61 L400.48,471.60 L400.61,472.59 L400.74,473.57 L400.87,474.55 L401.01,475.54 L401.15,476.52 L401.29,477.50 L401.43,478.48 L401.58,479.46 L401.73,480.44 L401.88,481.41 L402.03,482.39 L402.19,483.36 L402.36,484.33 L402.53,485.30 L402.71,486.26 L402.89,487.22 L403.08,488.18 L403.29,489.13 L403.50,490.07 L403.73,491.00 L403.99,491.92 L404.26,492.81 L404.58,493.68 L404.96,494.49 L405.43,495.19 L406.10,495.56 L407.10,494.73 L407.62,493.65 L407.99,492.61 L408.29,491.58 L408.56,490.55 L408.80,489.54 L409.02,488.52 L409.22,487.51 L409.41,486.50 L409.59,485.49 L409.76,484.48 L409.93,483.48 L410.08,482.47 L410.24,481.47 L410.39,480.47 L410.53,479.47 L410.67,478.46 L410.81,477.46 L410.95,476.46 L411.08,475.46 L411.21,474.46 L411.34,473.46 L411.47,472.46 L411.59,471.46 L411.71,470.46 L411.83,469.46 L411.95,468.46 L412.07,467.44 L412.19,466.41 L412.31,465.37 L412.43,464.32 L412.55,463.26 L412.67,462.19 L412.79,461.11 L412.91,460.03 L413.03,458.93 L413.15,457.83 L413.27,456.72 L413.39,455.60 L413.51,454.48 L413.63,453.35 L413.75,452.22 L413.87,451.08 L413.99,449.94 L414.11,448.79 L414.23,447.64 L414.35,446.49 L414.47,445.34 L414.59,444.18 L414.71,443.02 L414.83,441.86 L414.95,440.70 L415.07,439.54 L415.19,438.38 L415.31,437.22 L415.43,436.07 L415.55,434.91 L415.67,433.76 L415.79,432.61 L415.91,431.46 L416.03,430.31 L416.15,429.17 L416.27,428.04 L416.39,426.91 L416.51,425.79 L416.63,424.67 L416.75,423.56 L416.87,422.45 L416.99,421.35 L417.11,420.26 L417.23,419.18 L417.35,418.11 L417.47,417.04 L417.59,415.98 L417.71,414.94 L417.83,413.90 L417.95,412.88 L418.07,411.86 L418.19,410.86 L418.31,409.87 L418.43,408.88 L418.56,407.90 L418.68,406.91 L418.81,405.93 L418.93,404.94 L419.06,403.96 L419.20,402.98 L419.33,401.99 L419.47,401.01 L419.61,400.04 L419.75,399.06 L419.90,398.08 L420.05,397.11 L420.20,396.13 L420.36,395.16 L420.53,394.20 L420.70,393.23 L420.88,392.27 L421.06,391.31 L421.26,390.36 L421.47,389.42 L421.69,388.48 L421.94,387.56 L422.20,386.66 L422.51,385.78 L422.86,384.95 L423.30,384.20 L423.89,383.66 L424.79,383.83 L425.55,384.88 L426.01,385.92 L426.38,386.93 L426.70,387.95 L426.98,388.96 L427.23,389.96 L427.47,390.97 L427.69,391.97 L427.90,392.98 L428.10,393.98 L428.29,394.98 L428.48,395.99 L428.66,396.99 L428.83,397.99 L428.99,398.99 L429.15,399.99 L429.31,400.99 L429.46,401.99 L429.61,402.99 L429.76,403.99 L429.91,404.99 L430.05,405.99 L430.19,406.99 L430.32,407.98 L430.46,408.98 L430.59,409.98 L430.72,410.98 L430.85,411.98 L430.98,412.98 L431.10,413.97 L431.23,414.97 L431.35,415.97 L431.47,416.97 L431.59,417.96 L431.71,418.96 L431.83,419.97 L431.95,420.99 L432.07,422.02 L432.19,423.05 L432.31,424.10 L432.43,425.15 L432.55,426.20 L432.67,427.27 L432.79,428.34 L432.91,429.41 L433.03,430.50 L433.15,431.59 L433.27,432.68 L433.39,433.78 L433.51,434.89 L433.63,436.00 L433.75,437.11 L433.87,438.23 L433.99,439.35 L434.11,440.48 L434.23,441.60 L434.35,442.74 L434.47,443.87 L434.59,445.01 L434.71,446.15 L434.83,447.29 L434.95,448.43 L435.07,449.58 L435.19,450.72 L435.31,451.87 L435.43,453.02 L435.55,454.17 L435.67,455.31 L435.79,456.46 L435.91,457.61 L436.03,458.76 L436.15,459.90 L436.27,461.04 L436.39,462.19 L436.51,463.33 L436.63,464.47 L436.75,465.60 L436.87,466.73 L436.99,467.86 L437.11,468.99 L437.23,470.12 L437.35,471.23 L437.47,472.35 L437.59,473.46 L437.71,474.57 L437.83,475.67 L437.95,476.77 L438.07,477.86 L438.19,478.94 L438.31,480.02 L438.43,481.09 L438.55,482.16 L438.67,483.22 L438.79,484.27 L438.91,485.32 L439.03,486.35 L439.15,487.38 L439.27,488.41 L439.39,489.42 L439.51,490.42 L439.63,491.42 L439.75,492.40 L439.87,493.39 L440.00,494.38 L440.12,495.37 L440.25,496.35 L440.37,497.34 L440.50,498.32 L440.63,499.31 L440.76,500.29 L440.90,501.28 L441.03,502.26 L441.17,503.24 L441.31,504.22 L441.45,505.20 L441.60,506.18 L441.75,507.16 L441.90,508.14 L442.05,509.11 L442.21,510.09 L442.37,511.06 L442.54,512.03 L442.71,513.00 L442.89,513.96 L443.08,514.93 L443.27,515.89 L443.47,516.84 L443.69,517.79 L443.91,518.73 L444.15,519.67 L444.41,520.59 L444.69,521.51 L444.99,522.42 L445.32,523.30 L445.69,524.17 L446.11,525.00 L446.60,525.79 L447.17,526.50 L447.85,527.09 L448.68,527.51 L449.62,527.72 L450.62,527.77 L451.61,527.67 L452.60,527.46 L453.57,527.17 L454.52,526.83 L455.45,526.45 L456.38,526.07 L457.30,525.70 L458.23,525.35 L459.17,525.05 L460.14,524.81 L461.12,524.66 L462.11,524.58 L463.11,524.57 L464.11,524.62 L465.11,524.72 L466.10,524.87 L467.08,525.05 L468.07,525.26 L469.04,525.48 L470.02,525.71 L470.99,525.95 L471.96,526.18 L472.93,526.40 L473.91,526.59 L474.89,526.76 L475.88,526.90 L476.88,526.98 L477.87,527.01 L478.50,527.00" fill="none" stroke="#ff0000" stroke-width="2.2" stroke-linejoin="round" stroke-linecap="round"/>
<path d="M556.90,527.50 L557.89,527.40 L558.89,527.31 L559.89,527.25 L560.88,527.20 L561.88,527.16 L562.88,527.13 L563.88,527.12 L564.88,527.12 L565.88,527.12 L566.88,527.14 L567.88,527.16 L568.88,527.18 L569.88,527.21 L570.88,527.24 L571.88,527.27 L572.88,527.30 L573.88,527.32 L574.88,527.35 L575.88,527.36 L576.88,527.38 L577.88,527.38 L578.88,527.38 L579.88,527.36 L580.88,527.34 L581.88,527.30 L582.88,527.25 L583.88,527.18 L584.87,527.09 L585.87,526.99 L586.86,526.86 L587.85,526.72 L588.84,526.55 L589.83,526.37 L590.81,526.15 L591.78,525.92 L592.75,525.66 L593.71,525.37 L594.67,525.06 L595.61,524.72 L596.55,524.36 L597.48,523.97 L598.39,523.54 L599.29,523.07 L600.16,522.55 L601.01,521.98 L601.82,521.37 L602.60,520.71 L603.35,520.01 L604.06,519.27 L604.74,518.50 L605.38,517.70 L606.00,516.88 L606.58,516.04 L607.13,515.18 L607.66,514.31 L608.17,513.42 L608.65,512.52 L609.12,511.61 L609.57,510.69 L609.99,509.77 L610.41,508.84 L610.81,507.90 L611.19,506.96 L611.56,506.02 L611.93,505.07 L612.28,504.12 L612.62,503.17 L612.96,502.22 L613.29,501.26 L613.61,500.31 L613.93,499.35 L614.24,498.39 L614.55,497.43 L614.85,496.47 L615.15,495.51 L615.44,494.55 L615.73,493.59 L616.02,492.62 L616.31,491.66 L616.59,490.70 L616.87,489.73 L617.15,488.77 L617.43,487.80 L617.70,486.83 L617.97,485.85 L618.23,484.87 L618.48,483.88 L618.72,482.89 L618.95,481.90 L619.18,480.91 L619.40,479.91 L619.61,478.92 L619.81,477.92 L620.00,476.92 L620.19,475.92 L620.37,474.93 L620.55,473.93 L620.72,472.93 L620.89,471.93 L621.06,470.93 L621.22,469.93 L621.38,468.94 L621.53,467.94 L621.68,466.94 L621.83,465.94 L621.98,464.94 L622.12,463.94 L622.26,462.95 L622.40,461.95 L622.53,460.95 L622.67,459.95 L622.80,458.95 L622.93,457.95 L623.06,456.96 L623.18,455.96 L623.31,454.96 L623.43,453.96 L623.56,452.97 L623.68,451.97 L623.80,450.97 L623.92,449.97 L624.04,448.96 L624.16,447.95 L624.28,446.92 L624.40,445.90 L624.52,444.86 L624.64,443.82 L624.76,442.78 L624.88,441.73 L625.00,440.67 L625.12,439.62 L625.24,438.55 L625.36,437.49 L625.48,436.43 L625.60,435.36 L625.72,434.29 L625.84,433.22 L625.96,432.15 L626.08,431.07 L626.20,430.00 L626.32,428.93 L626.44,427.86 L626.56,426.79 L626.68,425.72 L626.80,424.66 L626.92,423.60 L627.04,422.54 L627.16,421.48 L627.28,420.43 L627.40,419.39 L627.52,418.34 L627.64,417.31 L627.76,416.28 L627.88,415.25 L628.00,414.23 L628.12,413.22 L628.24,412.22 L628.36,411.22 L628.48,410.23 L628.60,409.24 L628.72,408.26 L628.85,407.27 L628.97,406.28 L629.10,405.30 L629.22,404.31 L629.35,403.33 L629.48,402.34 L629.62,401.36 L629.75,400.38 L629.89,399.39 L630.03,398.41 L630.17,397.43 L630.32,396.46 L630.46,395.48 L630.62,394.50 L630.77,393.53 L630.93,392.56 L631.10,391.59 L631.27,390.62 L631.45,389.66 L631.64,388.70 L631.83,387.75 L632.04,386.80 L632.26,385.87 L632.50,384.94 L632.76,384.03 L633.06,383.15 L633.40,382.31 L633.82,381.55 L634.39,380.99 L635.27,381.13 L636.03,382.23 L636.47,383.28 L636.82,384.31 L637.11,385.33 L637.38,386.34 L637.62,387.35 L637.84,388.36 L638.05,389.37 L638.24,390.38 L638.43,391.39 L638.60,392.39 L638.77,393.40 L638.94,394.41 L639.10,395.41 L639.25,396.41 L639.40,397.42 L639.54,398.42 L639.68,399.42 L639.82,400.43 L639.95,401.43 L640.08,402.43 L640.21,403.44 L640.33,404.44 L640.45,405.44 L640.57,406.44 L640.69,407.46 L640.81,408.50 L640.93,409.56 L641.05,410.64 L641.17,411.73 L641.29,412.84 L641.41,413.97 L641.53,415.12 L641.65,416.29 L641.77,417.47 L641.89,418.67 L642.01,419.89 L642.13,421.12 L642.25,422.37 L642.37,423.63 L642.49,424.91 L642.61,426.20 L642.73,427.50 L642.85,428.81 L642.97,430.12 L643.09,431.45 L643.21,432.79 L643.33,434.13 L643.45,435.48 L643.57,436.83 L643.69,438.19 L643.81,439.55 L643.93,440.91 L644.05,442.27 L644.17,443.64 L644.29,445.00 L644.41,446.36 L644.53,447.72 L644.65,449.08 L644.77,450.43 L644.89,451.78 L645.01,453.12 L645.13,454.45 L645.25,455.78 L645.37,457.09 L645.49,458.40 L645.61,459.70 L645.73,460.98 L645.85,462.25 L645.97,463.51 L646.09,464.76 L646.21,465.99 L646.33,467.20 L646.45,468.40 L646.57,469.58 L646.69,470.75 L646.81,471.90 L646.93,473.03 L647.05,474.15 L647.17,475.25 L647.29,476.34 L647.41,477.41 L647.53,478.47 L647.65,479.51 L647.77,480.54 L647.89,481.55 L648.01,482.54 L648.14,483.53 L648.26,484.51 L648.38,485.50 L648.51,486.48 L648.64,487.46 L648.77,488.45 L648.90,489.43 L649.03,490.41 L649.17,491.39 L649.31,492.37 L649.46,493.35 L649.60,494.33 L649.75,495.31 L649.90,496.29 L650.06,497.26 L650.22,498.24 L650.38,499.21 L650.55,500.18 L650.72,501.15 L650.90,502.12 L651.08,503.09 L651.27,504.06 L651.46,505.02 L651.66,505.99 L651.87,506.95 L652.09,507.90 L652.31,508.86 L652.54,509.81 L652.78,510.76 L653.04,511.70 L653.30,512.64 L653.58,513.58 L653.87,514.50 L654.18,515.42 L654.51,516.34 L654.86,517.24 L655.23,518.13 L655.63,519.00 L656.07,519.85 L656.54,520.68 L657.06,521.48 L657.63,522.25 L658.26,522.97 L658.94,523.64 L659.69,524.26 L660.48,524.82 L661.31,525.34 L662.18,525.80 L663.07,526.20 L664.00,526.54 L664.95,526.80 L665.93,527.00 L666.91,527.14 L667.91,527.22 L668.91,527.24 L669.91,527.22 L670.90,527.16 L671.90,527.07 L672.90,526.96 L673.89,526.84 L674.88,526.72 L675.87,526.59 L676.87,526.47 L677.86,526.31 L678.84,526.04 L679.78,525.62 L680.66,525.04 L681.45,524.32 L682.14,523.52 L682.75,522.65 L683.30,521.74 L683.78,520.82 L684.23,519.88 L684.64,518.93 L685.03,517.98 L685.40,517.03 L685.75,516.07 L686.09,515.12 L686.42,514.16 L686.74,513.20 L687.06,512.24 L687.37,511.28 L687.67,510.32 L687.97,509.36 L688.26,508.40 L688.56,507.43 L688.85,506.47 L689.13,505.49 L689.41,504.51 L689.67,503.53 L689.92,502.53 L690.16,501.54 L690.39,500.53 L690.61,499.53 L690.82,498.53 L691.01,497.52 L691.20,496.51 L691.37,495.50 L691.54,494.49 L691.70,493.48 L691.86,492.48 L692.01,491.47 L692.15,490.46 L692.29,489.46 L692.42,488.45 L692.56,487.45 L692.68,486.45 L692.81,485.44 L692.93,484.44 L693.05,483.44 L693.17,482.42 L693.29,481.39 L693.41,480.34 L693.53,479.27 L693.65,478.19 L693.77,477.09 L693.89,475.98 L694.01,474.85 L694.13,473.71 L694.25,472.56 L694.37,471.39 L694.49,470.21 L694.61,469.02 L694.73,467.82 L694.85,466.61 L694.97,465.39 L695.09,464.16 L695.21,462.93 L695.33,461.68 L695.45,460.43 L695.57,459.17 L695.69,457.90 L695.81,456.63 L695.93,455.36 L696.05,454.08 L696.17,452.79 L696.29,451.51 L696.41,450.21 L696.53,448.92 L696.65,447.63 L696.77,446.33 L696.89,445.04 L697.01,443.74 L697.13,442.45 L697.25,441.15 L697.37,439.86 L697.49,438.57 L697.61,437.28 L697.73,436.00 L697.85,434.72 L697.97,433.45 L698.09,432.18 L698.21,430.92 L698.33,429.66 L698.45,428.41 L698.57,427.17 L698.69,425.94 L698.81,424.72 L698.93,423.51 L699.05,422.31 L699.17,421.12 L699.29,419.94 L699.41,418.78 L699.53,417.63 L699.65,416.49 L699.77,415.37 L699.89,414.26 L700.01,413.16 L700.13,412.08 L700.25,411.01 L700.37,409.96 L700.49,408.92 L700.61,407.90 L700.73,406.90 L700.85,405.91 L700.97,404.92 L701.10,403.94 L701.22,402.96 L701.35,401.97 L701.48,400.99 L701.61,400.01 L701.75,399.03 L701.89,398.06 L702.03,397.08 L702.18,396.11 L702.33,395.13 L702.49,394.16 L702.65,393.19 L702.82,392.23 L702.99,391.26 L703.17,390.30 L703.36,389.35 L703.57,388.40 L703.78,387.46 L704.01,386.53 L704.27,385.62 L704.55,384.72 L704.87,383.86 L705.25,383.06 L705.74,382.38 L706.44,382.05 L707.44,382.88 L707.98,383.94 L708.37,384.96 L708.69,385.98 L708.98,387.00 L709.24,388.01 L709.48,389.02 L709.70,390.02 L709.91,391.03 L710.10,392.04 L710.29,393.04 L710.47,394.04 L710.65,395.05 L710.82,396.05 L710.98,397.05 L711.13,398.06 L711.29,399.06 L711.44,400.06 L711.58,401.06 L711.72,402.06 L711.86,403.06 L712.00,404.06 L712.13,405.06 L712.26,406.06 L712.39,407.06 L712.52,408.06 L712.64,409.06 L712.76,410.06 L712.88,411.06 L713.00,412.07 L713.12,413.09 L713.24,414.12 L713.36,415.16 L713.48,416.21 L713.60,417.27 L713.72,418.34 L713.84,419.42 L713.96,420.50 L714.08,421.59 L714.20,422.69 L714.32,423.78 L714.44,424.89 L714.56,425.99 L714.68,427.10 L714.80,428.21 L714.92,429.32 L715.04,430.43 L715.16,431.54 L715.28,432.65 L715.40,433.76 L715.52,434.86 L715.64,435.96 L715.76,437.05 L715.88,438.14 L716.00,439.22 L716.12,440.30 L716.24,441.37 L716.36,442.43 L716.48,443.48 L716.60,444.52 L716.72,445.55 L716.84,446.57 L716.96,447.58 L717.08,448.57 L717.21,449.56 L717.33,450.54 L717.45,451.53 L717.58,452.51 L717.71,453.50 L717.84,454.48 L717.97,455.46 L718.10,456.45 L718.23,457.43 L718.37,458.41 L718.51,459.40 L718.65,460.38 L718.80,461.36 L718.94,462.34 L719.09,463.33 L719.24,464.31 L719.39,465.29 L719.54,466.27 L719.70,467.25 L719.86,468.23 L720.02,469.21 L720.18,470.19 L720.35,471.17 L720.51,472.15 L720.68,473.13 L720.85,474.11 L721.02,475.09 L721.20,476.07 L721.37,477.05 L721.55,478.03 L721.73,479.02 L721.91,480.00 L722.08,480.98 L722.26,481.97 L722.44,482.95 L722.62,483.93 L722.80,484.92 L722.98,485.90 L723.16,486.88 L723.34,487.86 L723.52,488.84 L723.70,489.82 L723.89,490.80 L724.07,491.78 L724.26,492.75 L724.45,493.73 L724.65,494.70 L724.84,495.67 L725.04,496.64 L725.25,497.61 L725.46,498.57 L725.67,499.53 L725.90,500.49 L726.13,501.44 L726.37,502.39 L726.62,503.33 L726.89,504.27 L727.16,505.21 L727.45,506.14 L727.76,507.06 L728.08,507.98 L728.42,508.89 L728.78,509.79 L729.17,510.68 L729.58,511.55 L730.02,512.41 L730.49,513.25 L731.00,514.08 L731.53,514.89 L732.10,515.68 L732.70,516.45 L733.32,517.22 L733.97,517.97 L734.63,518.69 L735.31,519.40 L736.02,520.08 L736.75,520.73 L737.51,521.35 L738.30,521.94 L739.12,522.48 L739.97,522.97 L740.85,523.40 L741.77,523.77 L742.70,524.07 L742.80,524.10" fill="none" stroke="#ff00ff" stroke-width="2.2" stroke-linejoin="round" stroke-linecap="round"/>
<text x="39.60" y="339.80" font-size="18.5" text-anchor="start" >(e)</text>
<text x="289.30" y="339.30" font-size="18.5" text-anchor="start" >(f)</text>
<text x="556.00" y="339.60" font-size="18.5" text-anchor="start" >(g)</text>
<text transform="translate(15.90,440.40) rotate(-90)" font-size="18.5" text-anchor="middle">Pulse power (w)</text>
<text transform="translate(261.90,440.20) rotate(-90)" font-size="18.5" text-anchor="middle">Pulse power (w)</text>
<text transform="translate(514.90,440.20) rotate(-90)" font-size="18.5" text-anchor="middle">Pulse power (w)</text>
<text x="137.00" y="579.20" font-size="18.5" text-anchor="middle" >Time (ns)</text>
<text x="385.43" y="579.20" font-size="18.5" text-anchor="middle" >Time (ns)</text>
<text x="649.85" y="579.20" font-size="18.5" text-anchor="middle" >Time (ns)</text>
</svg></body></html>
